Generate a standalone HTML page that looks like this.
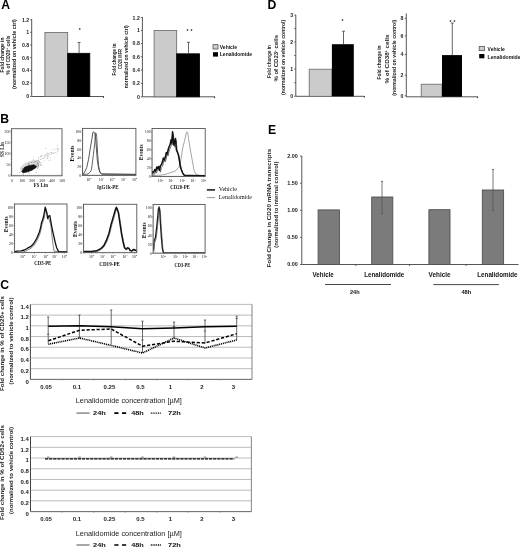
<!DOCTYPE html>
<html><head><meta charset="utf-8"><style>
html,body{margin:0;padding:0;background:#fff;width:520px;height:549px;overflow:hidden}
svg{display:block;filter:grayscale(1)}
</style></head><body>
<svg width="520" height="549" viewBox="0 0 520 549">
<rect width="520" height="549" fill="#fff"/>
<text x="1.3" y="8.8" font-family='"Liberation Sans", sans-serif' font-size="12.2" font-weight="bold" text-anchor="start" fill="#000" >A</text>
<text x="267.4" y="8.7" font-family='"Liberation Sans", sans-serif' font-size="12.2" font-weight="bold" text-anchor="start" fill="#000" >D</text>
<text x="0.3" y="122.7" font-family='"Liberation Sans", sans-serif' font-size="12.2" font-weight="bold" text-anchor="start" fill="#000" >B</text>
<text x="268.0" y="133.7" font-family='"Liberation Sans", sans-serif' font-size="12.2" font-weight="bold" text-anchor="start" fill="#000" >E</text>
<text x="0.2" y="288.5" font-family='"Liberation Sans", sans-serif' font-size="12.2" font-weight="bold" text-anchor="start" fill="#000" >C</text>
<line x1="31.7" y1="19.2" x2="31.7" y2="96.5" stroke="#444" stroke-width="0.9" />
<line x1="31.7" y1="96.5" x2="103.5" y2="96.5" stroke="#444" stroke-width="0.9" />
<line x1="103.5" y1="96.2" x2="103.5" y2="97.8" stroke="#333" stroke-width="1.1" />
<line x1="30.099999999999998" y1="19.8" x2="31.7" y2="19.8" stroke="#444" stroke-width="0.8" />
<text x="29.099999999999998" y="21.6" font-family='"Liberation Sans", sans-serif' font-size="5.2" font-weight="bold" text-anchor="end" fill="#222" >1.2</text>
<line x1="30.099999999999998" y1="32.3" x2="31.7" y2="32.3" stroke="#444" stroke-width="0.8" />
<text x="29.099999999999998" y="34.099999999999994" font-family='"Liberation Sans", sans-serif' font-size="5.2" font-weight="bold" text-anchor="end" fill="#222" >1</text>
<line x1="30.099999999999998" y1="45.0" x2="31.7" y2="45.0" stroke="#444" stroke-width="0.8" />
<text x="29.099999999999998" y="46.8" font-family='"Liberation Sans", sans-serif' font-size="5.2" font-weight="bold" text-anchor="end" fill="#222" >0.8</text>
<line x1="30.099999999999998" y1="57.7" x2="31.7" y2="57.7" stroke="#444" stroke-width="0.8" />
<text x="29.099999999999998" y="59.5" font-family='"Liberation Sans", sans-serif' font-size="5.2" font-weight="bold" text-anchor="end" fill="#222" >0.6</text>
<line x1="30.099999999999998" y1="70.5" x2="31.7" y2="70.5" stroke="#444" stroke-width="0.8" />
<text x="29.099999999999998" y="72.3" font-family='"Liberation Sans", sans-serif' font-size="5.2" font-weight="bold" text-anchor="end" fill="#222" >0.4</text>
<line x1="30.099999999999998" y1="83.2" x2="31.7" y2="83.2" stroke="#444" stroke-width="0.8" />
<text x="29.099999999999998" y="85.0" font-family='"Liberation Sans", sans-serif' font-size="5.2" font-weight="bold" text-anchor="end" fill="#222" >0.2</text>
<line x1="30.099999999999998" y1="96.5" x2="31.7" y2="96.5" stroke="#444" stroke-width="0.8" />
<text x="29.099999999999998" y="98.3" font-family='"Liberation Sans", sans-serif' font-size="5.2" font-weight="bold" text-anchor="end" fill="#222" >0</text>
<rect x="44.9" y="32.4" width="22.800000000000004" height="64.1" fill="#cbcbcb" stroke="#666" stroke-width="0.8"/>
<rect x="67.7" y="53.3" width="22.099999999999994" height="43.2" fill="#000" stroke="#000" stroke-width="0.8"/>
<line x1="79.1" y1="42.5" x2="79.1" y2="53.3" stroke="#555" stroke-width="0.9" />
<line x1="77.6" y1="42.5" x2="80.6" y2="42.5" stroke="#555" stroke-width="0.9" />
<text x="79.8" y="32.2" font-family='"Liberation Sans", sans-serif' font-size="5" font-weight="bold" text-anchor="middle" fill="#222" >*</text>
<text transform="translate(3.6,55.0) rotate(-90)" x="0" y="0" font-family='"Liberation Sans", sans-serif' font-size="5.0" font-weight="bold" text-anchor="middle" fill="#222" textLength="35" lengthAdjust="spacingAndGlyphs" >Fold change in</text>
<text transform="translate(9.8,54.9) rotate(-90)" x="0" y="0" font-family='"Liberation Sans", sans-serif' font-size="5.0" font-weight="bold" text-anchor="middle" fill="#222" textLength="39" lengthAdjust="spacingAndGlyphs" >% of CD20<tspan font-size="3" dy="-1.5">+</tspan><tspan dy="1.5"> cells</tspan></text>
<text transform="translate(16.0,54.1) rotate(-90)" x="0" y="0" font-family='"Liberation Sans", sans-serif' font-size="5.0" font-weight="bold" text-anchor="middle" fill="#222" textLength="70" lengthAdjust="spacingAndGlyphs" >(normalized  on  vehicle  ctrl)</text>
<line x1="142.4" y1="16.9" x2="142.4" y2="96.8" stroke="#444" stroke-width="0.9" />
<line x1="142.4" y1="96.8" x2="214.5" y2="96.8" stroke="#444" stroke-width="0.9" />
<line x1="214.5" y1="96.5" x2="214.5" y2="98.1" stroke="#333" stroke-width="1.1" />
<line x1="140.8" y1="17.7" x2="142.4" y2="17.7" stroke="#444" stroke-width="0.8" />
<text x="139.8" y="19.5" font-family='"Liberation Sans", sans-serif' font-size="5.2" font-weight="bold" text-anchor="end" fill="#222" >1.2</text>
<line x1="140.8" y1="30.4" x2="142.4" y2="30.4" stroke="#444" stroke-width="0.8" />
<text x="139.8" y="32.199999999999996" font-family='"Liberation Sans", sans-serif' font-size="5.2" font-weight="bold" text-anchor="end" fill="#222" >1</text>
<line x1="140.8" y1="43.6" x2="142.4" y2="43.6" stroke="#444" stroke-width="0.8" />
<text x="139.8" y="45.4" font-family='"Liberation Sans", sans-serif' font-size="5.2" font-weight="bold" text-anchor="end" fill="#222" >0.8</text>
<line x1="140.8" y1="56.8" x2="142.4" y2="56.8" stroke="#444" stroke-width="0.8" />
<text x="139.8" y="58.599999999999994" font-family='"Liberation Sans", sans-serif' font-size="5.2" font-weight="bold" text-anchor="end" fill="#222" >0.6</text>
<line x1="140.8" y1="70.0" x2="142.4" y2="70.0" stroke="#444" stroke-width="0.8" />
<text x="139.8" y="71.8" font-family='"Liberation Sans", sans-serif' font-size="5.2" font-weight="bold" text-anchor="end" fill="#222" >0.4</text>
<line x1="140.8" y1="83.4" x2="142.4" y2="83.4" stroke="#444" stroke-width="0.8" />
<text x="139.8" y="85.2" font-family='"Liberation Sans", sans-serif' font-size="5.2" font-weight="bold" text-anchor="end" fill="#222" >0.2</text>
<line x1="140.8" y1="96.8" x2="142.4" y2="96.8" stroke="#444" stroke-width="0.8" />
<text x="139.8" y="98.6" font-family='"Liberation Sans", sans-serif' font-size="5.2" font-weight="bold" text-anchor="end" fill="#222" >0</text>
<rect x="154.1" y="30.5" width="22.599999999999994" height="66.3" fill="#cbcbcb" stroke="#666" stroke-width="0.8"/>
<rect x="176.7" y="53.8" width="22.900000000000006" height="43.0" fill="#000" stroke="#000" stroke-width="0.8"/>
<line x1="188.5" y1="42.3" x2="188.5" y2="53.8" stroke="#555" stroke-width="0.9" />
<line x1="187.0" y1="42.3" x2="190.0" y2="42.3" stroke="#555" stroke-width="0.9" />
<text x="187.5" y="33" font-family='"Liberation Sans", sans-serif' font-size="5" font-weight="bold" text-anchor="middle" fill="#222" >*</text>
<text x="191.4" y="33" font-family='"Liberation Sans", sans-serif' font-size="5" font-weight="bold" text-anchor="middle" fill="#222" >*</text>
<text transform="translate(116.0,59.6) rotate(-90)" x="0" y="0" font-family='"Liberation Sans", sans-serif' font-size="5.0" font-weight="bold" text-anchor="middle" fill="#222" textLength="32" lengthAdjust="spacingAndGlyphs" >Fold change in</text>
<text transform="translate(121.5,59.0) rotate(-90)" x="0" y="0" font-family='"Liberation Sans", sans-serif' font-size="5.0" font-weight="bold" text-anchor="middle" fill="#222" textLength="20" lengthAdjust="spacingAndGlyphs" >CD20 MFR</text>
<text transform="translate(128.0,56.8) rotate(-90)" x="0" y="0" font-family='"Liberation Sans", sans-serif' font-size="5.0" font-weight="bold" text-anchor="middle" fill="#222" textLength="63" lengthAdjust="spacingAndGlyphs" >normalized on vehicle  ctrl)</text>
<rect x="213.0" y="44.6" width="5" height="4.4" fill="#cbcbcb" stroke="#555" stroke-width="0.8"/>
<text x="219.8" y="48.6" font-family='"Liberation Sans", sans-serif' font-size="5.6" font-weight="bold" text-anchor="start" fill="#111" textLength="17.2" lengthAdjust="spacingAndGlyphs" >Vehicle</text>
<rect x="213.0" y="52.2" width="5" height="4.4" fill="#000"/>
<text x="219.8" y="56.4" font-family='"Liberation Sans", sans-serif' font-size="5.6" font-weight="bold" text-anchor="start" fill="#111" textLength="32.2" lengthAdjust="spacingAndGlyphs" >Lenalidomide</text>
<line x1="295.8" y1="15" x2="295.8" y2="96.3" stroke="#444" stroke-width="0.9" />
<line x1="295.8" y1="96.3" x2="364.3" y2="96.3" stroke="#444" stroke-width="0.9" />
<line x1="364.3" y1="96.0" x2="364.3" y2="97.6" stroke="#333" stroke-width="1.1" />
<line x1="294.2" y1="15.0" x2="295.8" y2="15.0" stroke="#444" stroke-width="0.8" />
<text x="293.2" y="16.8" font-family='"Liberation Sans", sans-serif' font-size="5.2" font-weight="bold" text-anchor="end" fill="#222" >3</text>
<line x1="294.2" y1="28.6" x2="295.8" y2="28.6" stroke="#444" stroke-width="0.8" />
<line x1="294.2" y1="42.0" x2="295.8" y2="42.0" stroke="#444" stroke-width="0.8" />
<text x="293.2" y="43.8" font-family='"Liberation Sans", sans-serif' font-size="5.2" font-weight="bold" text-anchor="end" fill="#222" >2</text>
<line x1="294.2" y1="55.5" x2="295.8" y2="55.5" stroke="#444" stroke-width="0.8" />
<line x1="294.2" y1="69.0" x2="295.8" y2="69.0" stroke="#444" stroke-width="0.8" />
<text x="293.2" y="70.8" font-family='"Liberation Sans", sans-serif' font-size="5.2" font-weight="bold" text-anchor="end" fill="#222" >1</text>
<line x1="294.2" y1="82.7" x2="295.8" y2="82.7" stroke="#444" stroke-width="0.8" />
<line x1="294.2" y1="96.3" x2="295.8" y2="96.3" stroke="#444" stroke-width="0.8" />
<text x="293.2" y="98.1" font-family='"Liberation Sans", sans-serif' font-size="5.2" font-weight="bold" text-anchor="end" fill="#222" >0</text>
<rect x="309.2" y="69.2" width="22.69999999999999" height="27.099999999999994" fill="#cbcbcb" stroke="#666" stroke-width="0.8"/>
<rect x="331.9" y="44.2" width="21.900000000000034" height="52.099999999999994" fill="#000"/>
<line x1="343.5" y1="31.2" x2="343.5" y2="44.2" stroke="#555" stroke-width="0.9" />
<line x1="342" y1="31.2" x2="345" y2="31.2" stroke="#555" stroke-width="0.9" />
<text x="342.4" y="23" font-family='"Liberation Sans", sans-serif' font-size="5" font-weight="bold" text-anchor="middle" fill="#222" >*</text>
<text transform="translate(271.0,61.6) rotate(-90)" x="0" y="0" font-family='"Liberation Sans", sans-serif' font-size="5.8" font-weight="bold" text-anchor="middle" fill="#222" textLength="33" lengthAdjust="spacingAndGlyphs" >Fold change in</text>
<text transform="translate(277.8,58.3) rotate(-90)" x="0" y="0" font-family='"Liberation Sans", sans-serif' font-size="5.8" font-weight="bold" text-anchor="middle" fill="#222" textLength="46.6" lengthAdjust="spacingAndGlyphs" >% of CD23<tspan font-size="3" dy="-1.5">+</tspan><tspan dy="1.5"> cells</tspan></text>
<text transform="translate(284.6,57.4) rotate(-90)" x="0" y="0" font-family='"Liberation Sans", sans-serif' font-size="4.6" font-weight="bold" text-anchor="middle" fill="#222" textLength="75" lengthAdjust="spacingAndGlyphs" >(normalized  on vehicle control)</text>
<line x1="406.3" y1="13.5" x2="406.3" y2="96.8" stroke="#444" stroke-width="0.9" />
<line x1="406.3" y1="96.8" x2="477.5" y2="96.8" stroke="#444" stroke-width="0.9" />
<line x1="477.5" y1="96.5" x2="477.5" y2="98.1" stroke="#333" stroke-width="1.1" />
<line x1="404.7" y1="18.3" x2="406.3" y2="18.3" stroke="#444" stroke-width="0.8" />
<text x="403.5" y="20.1" font-family='"Liberation Sans", sans-serif' font-size="5.2" font-weight="bold" text-anchor="end" fill="#222" >8</text>
<line x1="404.7" y1="35.9" x2="406.3" y2="35.9" stroke="#444" stroke-width="0.8" />
<text x="403.5" y="37.699999999999996" font-family='"Liberation Sans", sans-serif' font-size="5.2" font-weight="bold" text-anchor="end" fill="#222" >6</text>
<line x1="404.7" y1="54.6" x2="406.3" y2="54.6" stroke="#444" stroke-width="0.8" />
<text x="403.5" y="56.4" font-family='"Liberation Sans", sans-serif' font-size="5.2" font-weight="bold" text-anchor="end" fill="#222" >4</text>
<line x1="404.7" y1="75.2" x2="406.3" y2="75.2" stroke="#444" stroke-width="0.8" />
<text x="403.5" y="77.0" font-family='"Liberation Sans", sans-serif' font-size="5.2" font-weight="bold" text-anchor="end" fill="#222" >2</text>
<line x1="404.7" y1="95.8" x2="406.3" y2="95.8" stroke="#444" stroke-width="0.8" />
<text x="403.5" y="97.6" font-family='"Liberation Sans", sans-serif' font-size="5.2" font-weight="bold" text-anchor="end" fill="#222" >0</text>
<rect x="421.2" y="84.2" width="20.80000000000001" height="12.599999999999994" fill="#cbcbcb" stroke="#666" stroke-width="0.8"/>
<rect x="442.0" y="55.1" width="20.0" height="41.699999999999996" fill="#000"/>
<line x1="452.3" y1="23.0" x2="452.3" y2="55.1" stroke="#555" stroke-width="0.9" />
<line x1="450.8" y1="23" x2="453.8" y2="23" stroke="#555" stroke-width="0.9" />
<text x="450.5" y="23.5" font-family='"Liberation Sans", sans-serif' font-size="5" font-weight="bold" text-anchor="middle" fill="#222" >*</text>
<text x="454.5" y="23.5" font-family='"Liberation Sans", sans-serif' font-size="5" font-weight="bold" text-anchor="middle" fill="#222" >*</text>
<text transform="translate(381.4,62.5) rotate(-90)" x="0" y="0" font-family='"Liberation Sans", sans-serif' font-size="5.8" font-weight="bold" text-anchor="middle" fill="#222" textLength="34" lengthAdjust="spacingAndGlyphs" >Fold change in</text>
<text transform="translate(388.8,59.0) rotate(-90)" x="0" y="0" font-family='"Liberation Sans", sans-serif' font-size="5.8" font-weight="bold" text-anchor="middle" fill="#222" textLength="49" lengthAdjust="spacingAndGlyphs" >% of CD38<tspan font-size="3" dy="-1.5">+</tspan><tspan dy="1.5"> cells</tspan></text>
<text transform="translate(395.7,57.7) rotate(-90)" x="0" y="0" font-family='"Liberation Sans", sans-serif' font-size="4.6" font-weight="bold" text-anchor="middle" fill="#222" textLength="76" lengthAdjust="spacingAndGlyphs" >(normalized on vehicle  control)</text>
<rect x="479.2" y="46.4" width="5.2" height="4.2" fill="#cbcbcb" stroke="#555" stroke-width="0.8"/>
<text x="487.6" y="50.8" font-family='"Liberation Sans", sans-serif' font-size="5.6" font-weight="bold" text-anchor="start" fill="#111" textLength="17.2" lengthAdjust="spacingAndGlyphs" >Vehicle</text>
<rect x="479.2" y="54.0" width="5.2" height="4.3" fill="#000"/>
<text x="487.6" y="58.5" font-family='"Liberation Sans", sans-serif' font-size="5.6" font-weight="bold" text-anchor="start" fill="#111" textLength="33" lengthAdjust="spacingAndGlyphs" >Lenalidomide</text>
<rect x="11.4" y="128.7" width="50.6" height="47.10000000000002" fill="none" stroke="#555" stroke-width="0.9"/>
<text x="10.4" y="132.6" font-family='"Liberation Serif", serif' font-size="3.9" font-weight="normal" text-anchor="end" fill="#111" >200</text>
<text x="10.4" y="143.79999999999998" font-family='"Liberation Serif", serif' font-size="3.9" font-weight="normal" text-anchor="end" fill="#111" >150</text>
<text x="10.4" y="155.0" font-family='"Liberation Serif", serif' font-size="3.9" font-weight="normal" text-anchor="end" fill="#111" >100</text>
<text x="10.4" y="166.20000000000002" font-family='"Liberation Serif", serif' font-size="3.9" font-weight="normal" text-anchor="end" fill="#111" >50</text>
<text x="10.4" y="177.4" font-family='"Liberation Serif", serif' font-size="3.9" font-weight="normal" text-anchor="end" fill="#111" >0</text>
<text x="12.1" y="181.6" font-family='"Liberation Serif", serif' font-size="3.9" font-weight="normal" text-anchor="middle" fill="#111" >0</text>
<text x="22.14" y="181.6" font-family='"Liberation Serif", serif' font-size="3.9" font-weight="normal" text-anchor="middle" fill="#111" >100</text>
<text x="32.18" y="181.6" font-family='"Liberation Serif", serif' font-size="3.9" font-weight="normal" text-anchor="middle" fill="#111" >200</text>
<text x="42.22" y="181.6" font-family='"Liberation Serif", serif' font-size="3.9" font-weight="normal" text-anchor="middle" fill="#111" >300</text>
<text x="52.26" y="181.6" font-family='"Liberation Serif", serif' font-size="3.9" font-weight="normal" text-anchor="middle" fill="#111" >400</text>
<text x="62.3" y="181.6" font-family='"Liberation Serif", serif' font-size="3.9" font-weight="normal" text-anchor="middle" fill="#111" >500</text>
<line x1="11.4" y1="174.8" x2="11.4" y2="175.8" stroke="#555" stroke-width="0.5" />
<line x1="13.424" y1="174.8" x2="13.424" y2="175.8" stroke="#555" stroke-width="0.5" />
<line x1="15.448" y1="174.8" x2="15.448" y2="175.8" stroke="#555" stroke-width="0.5" />
<line x1="17.472" y1="174.8" x2="17.472" y2="175.8" stroke="#555" stroke-width="0.5" />
<line x1="19.496000000000002" y1="174.8" x2="19.496000000000002" y2="175.8" stroke="#555" stroke-width="0.5" />
<line x1="21.52" y1="174.8" x2="21.52" y2="175.8" stroke="#555" stroke-width="0.5" />
<line x1="23.544" y1="174.8" x2="23.544" y2="175.8" stroke="#555" stroke-width="0.5" />
<line x1="25.567999999999998" y1="174.8" x2="25.567999999999998" y2="175.8" stroke="#555" stroke-width="0.5" />
<line x1="27.592" y1="174.8" x2="27.592" y2="175.8" stroke="#555" stroke-width="0.5" />
<line x1="29.616" y1="174.8" x2="29.616" y2="175.8" stroke="#555" stroke-width="0.5" />
<line x1="31.64" y1="174.8" x2="31.64" y2="175.8" stroke="#555" stroke-width="0.5" />
<line x1="33.664" y1="174.8" x2="33.664" y2="175.8" stroke="#555" stroke-width="0.5" />
<line x1="35.688" y1="174.8" x2="35.688" y2="175.8" stroke="#555" stroke-width="0.5" />
<line x1="37.712" y1="174.8" x2="37.712" y2="175.8" stroke="#555" stroke-width="0.5" />
<line x1="39.736" y1="174.8" x2="39.736" y2="175.8" stroke="#555" stroke-width="0.5" />
<line x1="41.76" y1="174.8" x2="41.76" y2="175.8" stroke="#555" stroke-width="0.5" />
<line x1="43.784" y1="174.8" x2="43.784" y2="175.8" stroke="#555" stroke-width="0.5" />
<line x1="45.808" y1="174.8" x2="45.808" y2="175.8" stroke="#555" stroke-width="0.5" />
<line x1="47.832" y1="174.8" x2="47.832" y2="175.8" stroke="#555" stroke-width="0.5" />
<line x1="49.855999999999995" y1="174.8" x2="49.855999999999995" y2="175.8" stroke="#555" stroke-width="0.5" />
<line x1="51.879999999999995" y1="174.8" x2="51.879999999999995" y2="175.8" stroke="#555" stroke-width="0.5" />
<line x1="53.904" y1="174.8" x2="53.904" y2="175.8" stroke="#555" stroke-width="0.5" />
<line x1="55.928" y1="174.8" x2="55.928" y2="175.8" stroke="#555" stroke-width="0.5" />
<line x1="57.952" y1="174.8" x2="57.952" y2="175.8" stroke="#555" stroke-width="0.5" />
<line x1="59.976" y1="174.8" x2="59.976" y2="175.8" stroke="#555" stroke-width="0.5" />
<line x1="62.0" y1="174.8" x2="62.0" y2="175.8" stroke="#555" stroke-width="0.5" />
<line x1="11.4" y1="128.7" x2="12.4" y2="128.7" stroke="#555" stroke-width="0.5" />
<line x1="11.4" y1="131.05499999999998" x2="12.4" y2="131.05499999999998" stroke="#555" stroke-width="0.5" />
<line x1="11.4" y1="133.41" x2="12.4" y2="133.41" stroke="#555" stroke-width="0.5" />
<line x1="11.4" y1="135.765" x2="12.4" y2="135.765" stroke="#555" stroke-width="0.5" />
<line x1="11.4" y1="138.12" x2="12.4" y2="138.12" stroke="#555" stroke-width="0.5" />
<line x1="11.4" y1="140.475" x2="12.4" y2="140.475" stroke="#555" stroke-width="0.5" />
<line x1="11.4" y1="142.82999999999998" x2="12.4" y2="142.82999999999998" stroke="#555" stroke-width="0.5" />
<line x1="11.4" y1="145.185" x2="12.4" y2="145.185" stroke="#555" stroke-width="0.5" />
<line x1="11.4" y1="147.54" x2="12.4" y2="147.54" stroke="#555" stroke-width="0.5" />
<line x1="11.4" y1="149.895" x2="12.4" y2="149.895" stroke="#555" stroke-width="0.5" />
<line x1="11.4" y1="152.25" x2="12.4" y2="152.25" stroke="#555" stroke-width="0.5" />
<line x1="11.4" y1="154.605" x2="12.4" y2="154.605" stroke="#555" stroke-width="0.5" />
<line x1="11.4" y1="156.96" x2="12.4" y2="156.96" stroke="#555" stroke-width="0.5" />
<line x1="11.4" y1="159.315" x2="12.4" y2="159.315" stroke="#555" stroke-width="0.5" />
<line x1="11.4" y1="161.67000000000002" x2="12.4" y2="161.67000000000002" stroke="#555" stroke-width="0.5" />
<line x1="11.4" y1="164.025" x2="12.4" y2="164.025" stroke="#555" stroke-width="0.5" />
<line x1="11.4" y1="166.38" x2="12.4" y2="166.38" stroke="#555" stroke-width="0.5" />
<line x1="11.4" y1="168.735" x2="12.4" y2="168.735" stroke="#555" stroke-width="0.5" />
<line x1="11.4" y1="171.09" x2="12.4" y2="171.09" stroke="#555" stroke-width="0.5" />
<line x1="11.4" y1="173.445" x2="12.4" y2="173.445" stroke="#555" stroke-width="0.5" />
<line x1="11.4" y1="175.8" x2="12.4" y2="175.8" stroke="#555" stroke-width="0.5" />
<text x="33.8" y="187.4" font-family='"Liberation Serif", serif' font-size="5.4" font-weight="bold" text-anchor="start" fill="#111" textLength="14" lengthAdjust="spacingAndGlyphs" >FS Lin</text>
<text transform="translate(3.8,149.5) rotate(-90)" x="0" y="0" font-family='"Liberation Serif", serif' font-size="5.4" font-weight="bold" text-anchor="middle" fill="#111" textLength="15" lengthAdjust="spacingAndGlyphs" >SS Lin</text>
<rect x="32.3" y="161.1" width="0.9" height="0.9" fill="#aaa"/>
<rect x="46.7" y="155.6" width="0.9" height="0.9" fill="#aaa"/>
<rect x="35.8" y="172.1" width="0.9" height="0.9" fill="#aaa"/>
<rect x="41.7" y="155.8" width="0.9" height="0.9" fill="#c4c4c4"/>
<rect x="37.1" y="168.0" width="0.9" height="0.9" fill="#aaa"/>
<rect x="49.6" y="152.4" width="0.9" height="0.9" fill="#bbb"/>
<rect x="40.7" y="162.1" width="0.9" height="0.9" fill="#aaa"/>
<rect x="47.3" y="154.4" width="0.9" height="0.9" fill="#aaa"/>
<rect x="40.0" y="156.0" width="0.9" height="0.9" fill="#c4c4c4"/>
<rect x="55.2" y="152.1" width="0.9" height="0.9" fill="#c4c4c4"/>
<rect x="33.2" y="156.7" width="0.9" height="0.9" fill="#ccc"/>
<rect x="41.5" y="155.2" width="0.9" height="0.9" fill="#aaa"/>
<rect x="47.9" y="153.3" width="0.9" height="0.9" fill="#bbb"/>
<rect x="56.8" y="151.2" width="0.9" height="0.9" fill="#c4c4c4"/>
<rect x="47.4" y="157.7" width="0.9" height="0.9" fill="#bbb"/>
<rect x="50.1" y="159.7" width="0.9" height="0.9" fill="#ccc"/>
<rect x="39.8" y="163.6" width="0.9" height="0.9" fill="#aaa"/>
<rect x="30.5" y="161.4" width="0.9" height="0.9" fill="#c4c4c4"/>
<rect x="25.6" y="167.1" width="0.9" height="0.9" fill="#bbb"/>
<rect x="27.9" y="164.6" width="0.9" height="0.9" fill="#ccc"/>
<rect x="45.6" y="155.4" width="0.9" height="0.9" fill="#c4c4c4"/>
<rect x="57.6" y="150.2" width="0.9" height="0.9" fill="#bbb"/>
<rect x="58.2" y="149.4" width="0.9" height="0.9" fill="#ccc"/>
<rect x="36.1" y="165.0" width="0.9" height="0.9" fill="#ccc"/>
<rect x="41.0" y="164.7" width="0.9" height="0.9" fill="#aaa"/>
<rect x="38.1" y="157.6" width="0.9" height="0.9" fill="#bbb"/>
<rect x="48.7" y="154.1" width="0.9" height="0.9" fill="#aaa"/>
<rect x="45.6" y="147.9" width="0.9" height="0.9" fill="#aaa"/>
<rect x="54.6" y="148.8" width="0.9" height="0.9" fill="#bbb"/>
<rect x="53.3" y="152.4" width="0.9" height="0.9" fill="#aaa"/>
<rect x="45.6" y="154.7" width="0.9" height="0.9" fill="#ccc"/>
<rect x="40.6" y="155.4" width="0.9" height="0.9" fill="#ccc"/>
<rect x="50.6" y="153.6" width="0.9" height="0.9" fill="#bbb"/>
<rect x="56.8" y="153.2" width="0.9" height="0.9" fill="#ccc"/>
<rect x="34.0" y="167.9" width="0.9" height="0.9" fill="#ccc"/>
<rect x="33.6" y="164.7" width="0.9" height="0.9" fill="#bbb"/>
<rect x="56.6" y="147.9" width="0.9" height="0.9" fill="#c4c4c4"/>
<rect x="47.0" y="157.7" width="0.9" height="0.9" fill="#aaa"/>
<rect x="49.6" y="157.4" width="0.9" height="0.9" fill="#ccc"/>
<rect x="48.6" y="160.3" width="0.9" height="0.9" fill="#c4c4c4"/>
<rect x="29.4" y="162.4" width="0.9" height="0.9" fill="#aaa"/>
<rect x="35.5" y="160.6" width="0.9" height="0.9" fill="#c4c4c4"/>
<rect x="38.3" y="157.1" width="0.9" height="0.9" fill="#ccc"/>
<rect x="38.0" y="159.0" width="0.9" height="0.9" fill="#ccc"/>
<rect x="42.9" y="157.8" width="0.9" height="0.9" fill="#ccc"/>
<rect x="40.2" y="156.1" width="0.9" height="0.9" fill="#aaa"/>
<rect x="26.8" y="166.5" width="0.9" height="0.9" fill="#aaa"/>
<rect x="61.0" y="143.5" width="0.9" height="0.9" fill="#aaa"/>
<rect x="47.8" y="156.0" width="0.9" height="0.9" fill="#bbb"/>
<rect x="51.8" y="149.3" width="0.9" height="0.9" fill="#ccc"/>
<rect x="47.2" y="152.7" width="0.9" height="0.9" fill="#ccc"/>
<rect x="30.7" y="164.8" width="0.9" height="0.9" fill="#c4c4c4"/>
<rect x="57.1" y="148.3" width="0.9" height="0.9" fill="#bbb"/>
<rect x="43.8" y="160.4" width="0.9" height="0.9" fill="#c4c4c4"/>
<rect x="45.3" y="154.2" width="0.9" height="0.9" fill="#bbb"/>
<rect x="37.5" y="166.6" width="0.9" height="0.9" fill="#aaa"/>
<rect x="53.6" y="153.1" width="0.9" height="0.9" fill="#bbb"/>
<rect x="44.1" y="155.1" width="0.9" height="0.9" fill="#ccc"/>
<rect x="57.0" y="144.7" width="0.9" height="0.9" fill="#bbb"/>
<rect x="40.1" y="156.3" width="0.9" height="0.9" fill="#ccc"/>
<rect x="32.7" y="159.2" width="0.9" height="0.9" fill="#bbb"/>
<rect x="41.7" y="157.8" width="0.9" height="0.9" fill="#bbb"/>
<rect x="51.7" y="153.1" width="0.9" height="0.9" fill="#aaa"/>
<rect x="57.8" y="148.4" width="0.9" height="0.9" fill="#aaa"/>
<rect x="36.0" y="163.4" width="0.9" height="0.9" fill="#aaa"/>
<rect x="44.3" y="157.6" width="0.9" height="0.9" fill="#ccc"/>
<rect x="40.4" y="158.9" width="0.9" height="0.9" fill="#aaa"/>
<rect x="51.1" y="152.1" width="0.9" height="0.9" fill="#aaa"/>
<rect x="46.2" y="152.7" width="0.9" height="0.9" fill="#bbb"/>
<rect x="44.4" y="156.7" width="0.9" height="0.9" fill="#aaa"/>
<ellipse cx="30" cy="165.5" rx="11" ry="4.2" transform="rotate(-22 30 165.5)" fill="#bbb" opacity="0.55"/>
<rect x="33.3" y="168.3" width="0.8" height="0.8" fill="#777"/>
<rect x="29.5" y="167.9" width="0.8" height="0.8" fill="#777"/>
<rect x="23.7" y="167.5" width="0.8" height="0.8" fill="#777"/>
<rect x="25.3" y="169.8" width="0.8" height="0.8" fill="#777"/>
<rect x="28.6" y="168.2" width="0.8" height="0.8" fill="#777"/>
<rect x="38.2" y="165.4" width="0.8" height="0.8" fill="#777"/>
<rect x="37.6" y="160.0" width="0.8" height="0.8" fill="#777"/>
<rect x="30.1" y="167.3" width="0.8" height="0.8" fill="#777"/>
<rect x="24.2" y="168.1" width="0.8" height="0.8" fill="#777"/>
<rect x="32.9" y="165.2" width="0.8" height="0.8" fill="#777"/>
<rect x="26.2" y="167.7" width="0.8" height="0.8" fill="#777"/>
<rect x="31.0" y="167.7" width="0.8" height="0.8" fill="#777"/>
<rect x="27.3" y="168.1" width="0.8" height="0.8" fill="#777"/>
<rect x="20.9" y="170.7" width="0.8" height="0.8" fill="#777"/>
<rect x="25.9" y="169.6" width="0.8" height="0.8" fill="#777"/>
<rect x="37.3" y="161.8" width="0.8" height="0.8" fill="#777"/>
<rect x="24.7" y="169.1" width="0.8" height="0.8" fill="#777"/>
<rect x="28.3" y="165.5" width="0.8" height="0.8" fill="#777"/>
<rect x="28.7" y="172.6" width="0.8" height="0.8" fill="#777"/>
<rect x="30.5" y="166.4" width="0.8" height="0.8" fill="#777"/>
<rect x="37.9" y="165.2" width="0.8" height="0.8" fill="#777"/>
<rect x="34.5" y="161.6" width="0.8" height="0.8" fill="#777"/>
<rect x="28.1" y="171.8" width="0.8" height="0.8" fill="#777"/>
<rect x="37.6" y="163.6" width="0.8" height="0.8" fill="#777"/>
<rect x="28.4" y="164.6" width="0.8" height="0.8" fill="#777"/>
<rect x="34.1" y="166.7" width="0.8" height="0.8" fill="#777"/>
<rect x="37.8" y="165.1" width="0.8" height="0.8" fill="#777"/>
<rect x="28.6" y="163.4" width="0.8" height="0.8" fill="#777"/>
<rect x="32.0" y="165.5" width="0.8" height="0.8" fill="#777"/>
<rect x="35.6" y="166.3" width="0.8" height="0.8" fill="#777"/>
<rect x="38.9" y="161.5" width="0.8" height="0.8" fill="#777"/>
<rect x="33.7" y="161.7" width="0.8" height="0.8" fill="#777"/>
<rect x="28.2" y="163.8" width="0.8" height="0.8" fill="#777"/>
<rect x="36.6" y="164.7" width="0.8" height="0.8" fill="#777"/>
<rect x="36.0" y="166.2" width="0.8" height="0.8" fill="#777"/>
<rect x="22.5" y="169.7" width="0.8" height="0.8" fill="#777"/>
<rect x="27.8" y="165.4" width="0.8" height="0.8" fill="#777"/>
<rect x="22.1" y="168.0" width="0.8" height="0.8" fill="#777"/>
<rect x="37.1" y="166.5" width="0.8" height="0.8" fill="#777"/>
<rect x="24.6" y="169.9" width="0.8" height="0.8" fill="#777"/>
<rect x="39.8" y="164.6" width="0.8" height="0.8" fill="#777"/>
<rect x="35.6" y="161.3" width="0.8" height="0.8" fill="#777"/>
<rect x="22.5" y="172.1" width="0.8" height="0.8" fill="#777"/>
<rect x="37.1" y="162.6" width="0.8" height="0.8" fill="#777"/>
<rect x="32.0" y="165.5" width="0.8" height="0.8" fill="#777"/>
<rect x="38.0" y="163.5" width="0.8" height="0.8" fill="#777"/>
<rect x="26.4" y="171.4" width="0.8" height="0.8" fill="#777"/>
<rect x="22.8" y="174.0" width="0.8" height="0.8" fill="#777"/>
<rect x="19.5" y="171.9" width="0.8" height="0.8" fill="#777"/>
<rect x="28.3" y="168.7" width="0.8" height="0.8" fill="#777"/>
<rect x="29.6" y="169.2" width="0.8" height="0.8" fill="#777"/>
<rect x="33.6" y="164.9" width="0.8" height="0.8" fill="#777"/>
<rect x="27.2" y="168.2" width="0.8" height="0.8" fill="#777"/>
<rect x="27.2" y="168.3" width="0.8" height="0.8" fill="#777"/>
<rect x="23.4" y="168.8" width="0.8" height="0.8" fill="#777"/>
<rect x="32.2" y="166.7" width="0.8" height="0.8" fill="#777"/>
<rect x="31.3" y="162.2" width="0.8" height="0.8" fill="#777"/>
<rect x="38.3" y="166.5" width="0.8" height="0.8" fill="#777"/>
<rect x="25.5" y="167.7" width="0.8" height="0.8" fill="#777"/>
<rect x="32.5" y="165.5" width="0.8" height="0.8" fill="#777"/>
<polygon points="21.8,171.5 23.5,168.8 24.8,167.1 28,166.0 31,165.2 34,164.8 36.2,166.2 36.2,167.5 33.5,169.3 31.7,170.3 27.5,171.8 23.1,172.9" fill="#111" stroke="#111" stroke-width="0.6" stroke-linejoin="round"/>
<clipPath id="c82128"><rect x="82.5" y="128.4" width="53.400000000000006" height="47.0"/></clipPath>
<text x="81.2" y="133.3" font-family='"Liberation Serif", serif' font-size="3.9" font-weight="normal" text-anchor="end" fill="#111" >100</text>
<line x1="81.5" y1="131.9" x2="82.5" y2="131.9" stroke="#666" stroke-width="0.5" />
<text x="81.2" y="142.0" font-family='"Liberation Serif", serif' font-size="3.9" font-weight="normal" text-anchor="end" fill="#111" >80</text>
<line x1="81.5" y1="140.6" x2="82.5" y2="140.6" stroke="#666" stroke-width="0.5" />
<text x="81.2" y="150.70000000000002" font-family='"Liberation Serif", serif' font-size="3.9" font-weight="normal" text-anchor="end" fill="#111" >60</text>
<line x1="81.5" y1="149.3" x2="82.5" y2="149.3" stroke="#666" stroke-width="0.5" />
<text x="81.2" y="159.4" font-family='"Liberation Serif", serif' font-size="3.9" font-weight="normal" text-anchor="end" fill="#111" >40</text>
<line x1="81.5" y1="158.0" x2="82.5" y2="158.0" stroke="#666" stroke-width="0.5" />
<text x="81.2" y="168.1" font-family='"Liberation Serif", serif' font-size="3.9" font-weight="normal" text-anchor="end" fill="#111" >20</text>
<line x1="81.5" y1="166.7" x2="82.5" y2="166.7" stroke="#666" stroke-width="0.5" />
<text x="81.2" y="176.8" font-family='"Liberation Serif", serif' font-size="3.9" font-weight="normal" text-anchor="end" fill="#111" >0</text>
<line x1="81.5" y1="175.4" x2="82.5" y2="175.4" stroke="#666" stroke-width="0.5" />
<text transform="translate(73.7,153.5) rotate(-90)" x="0" y="0" font-family='"Liberation Serif", serif' font-size="5.2" font-weight="bold" text-anchor="middle" fill="#111" textLength="16" lengthAdjust="spacingAndGlyphs" >Events</text>
<text x="89" y="181.0" font-family='"Liberation Serif", serif' font-size="3.9" font-weight="normal" text-anchor="middle" fill="#111" >10<tspan font-size="2.6" dy="-1.6">0</tspan></text>
<line x1="89" y1="175.4" x2="89" y2="176.4" stroke="#666" stroke-width="0.5" />
<text x="101.3" y="181.0" font-family='"Liberation Serif", serif' font-size="3.9" font-weight="normal" text-anchor="middle" fill="#111" >10<tspan font-size="2.6" dy="-1.6">1</tspan></text>
<line x1="101.3" y1="175.4" x2="101.3" y2="176.4" stroke="#666" stroke-width="0.5" />
<text x="112.2" y="181.0" font-family='"Liberation Serif", serif' font-size="3.9" font-weight="normal" text-anchor="middle" fill="#111" >10<tspan font-size="2.6" dy="-1.6">2</tspan></text>
<line x1="112.2" y1="175.4" x2="112.2" y2="176.4" stroke="#666" stroke-width="0.5" />
<text x="123.6" y="181.0" font-family='"Liberation Serif", serif' font-size="3.9" font-weight="normal" text-anchor="middle" fill="#111" >10<tspan font-size="2.6" dy="-1.6">3</tspan></text>
<line x1="123.6" y1="175.4" x2="123.6" y2="176.4" stroke="#666" stroke-width="0.5" />
<text x="134.5" y="181.0" font-family='"Liberation Serif", serif' font-size="3.9" font-weight="normal" text-anchor="middle" fill="#111" >10<tspan font-size="2.6" dy="-1.6">4</tspan></text>
<line x1="134.5" y1="175.4" x2="134.5" y2="176.4" stroke="#666" stroke-width="0.5" />
<text x="97.1" y="188.9" font-family='"Liberation Serif", serif' font-size="5.4" font-weight="bold" text-anchor="start" fill="#111" textLength="21.6" lengthAdjust="spacingAndGlyphs" >IgG1k-PE</text>
<g clip-path="url(#c82128)">
<polyline points="82.50,174.40 88.00,174.00 90.30,172.00 91.50,169.60 93.40,154.50 94.80,143.00 95.30,133.60 96.00,133.00 96.70,136.40 97.70,154.50 98.60,165.80 100.00,172.50 101.90,173.90 136.00,174.40" fill="none" stroke="#555" stroke-width="0.9" stroke-linejoin="round" />
<polyline points="82.50,174.30 83.90,173.40 86.70,167.70 88.60,159.20 90.50,146.90 92.00,138.30 92.90,132.20 94.00,131.80 94.80,132.60 95.80,140.00 96.50,150.00 97.30,160.00 98.50,168.00 100.00,172.50 102.00,174.20 136.00,174.40" fill="none" stroke="#444" stroke-width="0.9" stroke-linejoin="round" />
</g>
<line x1="82.5" y1="128.40" x2="83.4" y2="128.40" stroke="#666" stroke-width="0.5"/>
<line x1="82.5" y1="130.87" x2="83.4" y2="130.87" stroke="#666" stroke-width="0.5"/>
<line x1="82.5" y1="133.35" x2="83.4" y2="133.35" stroke="#666" stroke-width="0.5"/>
<line x1="82.5" y1="135.82" x2="83.4" y2="135.82" stroke="#666" stroke-width="0.5"/>
<line x1="82.5" y1="138.29" x2="83.4" y2="138.29" stroke="#666" stroke-width="0.5"/>
<line x1="82.5" y1="140.77" x2="83.4" y2="140.77" stroke="#666" stroke-width="0.5"/>
<line x1="82.5" y1="143.24" x2="83.4" y2="143.24" stroke="#666" stroke-width="0.5"/>
<line x1="82.5" y1="145.72" x2="83.4" y2="145.72" stroke="#666" stroke-width="0.5"/>
<line x1="82.5" y1="148.19" x2="83.4" y2="148.19" stroke="#666" stroke-width="0.5"/>
<line x1="82.5" y1="150.66" x2="83.4" y2="150.66" stroke="#666" stroke-width="0.5"/>
<line x1="82.5" y1="153.14" x2="83.4" y2="153.14" stroke="#666" stroke-width="0.5"/>
<line x1="82.5" y1="155.61" x2="83.4" y2="155.61" stroke="#666" stroke-width="0.5"/>
<line x1="82.5" y1="158.08" x2="83.4" y2="158.08" stroke="#666" stroke-width="0.5"/>
<line x1="82.5" y1="160.56" x2="83.4" y2="160.56" stroke="#666" stroke-width="0.5"/>
<line x1="82.5" y1="163.03" x2="83.4" y2="163.03" stroke="#666" stroke-width="0.5"/>
<line x1="82.5" y1="165.51" x2="83.4" y2="165.51" stroke="#666" stroke-width="0.5"/>
<line x1="82.5" y1="167.98" x2="83.4" y2="167.98" stroke="#666" stroke-width="0.5"/>
<line x1="82.5" y1="170.45" x2="83.4" y2="170.45" stroke="#666" stroke-width="0.5"/>
<line x1="82.5" y1="172.93" x2="83.4" y2="172.93" stroke="#666" stroke-width="0.5"/>
<line x1="82.5" y1="175.40" x2="83.4" y2="175.40" stroke="#666" stroke-width="0.5"/>
<line x1="82.50" y1="174.5" x2="82.50" y2="175.4" stroke="#666" stroke-width="0.5"/>
<line x1="84.93" y1="174.5" x2="84.93" y2="175.4" stroke="#666" stroke-width="0.5"/>
<line x1="87.35" y1="174.5" x2="87.35" y2="175.4" stroke="#666" stroke-width="0.5"/>
<line x1="89.78" y1="174.5" x2="89.78" y2="175.4" stroke="#666" stroke-width="0.5"/>
<line x1="92.21" y1="174.5" x2="92.21" y2="175.4" stroke="#666" stroke-width="0.5"/>
<line x1="94.64" y1="174.5" x2="94.64" y2="175.4" stroke="#666" stroke-width="0.5"/>
<line x1="97.06" y1="174.5" x2="97.06" y2="175.4" stroke="#666" stroke-width="0.5"/>
<line x1="99.49" y1="174.5" x2="99.49" y2="175.4" stroke="#666" stroke-width="0.5"/>
<line x1="101.92" y1="174.5" x2="101.92" y2="175.4" stroke="#666" stroke-width="0.5"/>
<line x1="104.35" y1="174.5" x2="104.35" y2="175.4" stroke="#666" stroke-width="0.5"/>
<line x1="106.77" y1="174.5" x2="106.77" y2="175.4" stroke="#666" stroke-width="0.5"/>
<line x1="109.20" y1="174.5" x2="109.20" y2="175.4" stroke="#666" stroke-width="0.5"/>
<line x1="111.63" y1="174.5" x2="111.63" y2="175.4" stroke="#666" stroke-width="0.5"/>
<line x1="114.05" y1="174.5" x2="114.05" y2="175.4" stroke="#666" stroke-width="0.5"/>
<line x1="116.48" y1="174.5" x2="116.48" y2="175.4" stroke="#666" stroke-width="0.5"/>
<line x1="118.91" y1="174.5" x2="118.91" y2="175.4" stroke="#666" stroke-width="0.5"/>
<line x1="121.34" y1="174.5" x2="121.34" y2="175.4" stroke="#666" stroke-width="0.5"/>
<line x1="123.76" y1="174.5" x2="123.76" y2="175.4" stroke="#666" stroke-width="0.5"/>
<line x1="126.19" y1="174.5" x2="126.19" y2="175.4" stroke="#666" stroke-width="0.5"/>
<line x1="128.62" y1="174.5" x2="128.62" y2="175.4" stroke="#666" stroke-width="0.5"/>
<line x1="131.05" y1="174.5" x2="131.05" y2="175.4" stroke="#666" stroke-width="0.5"/>
<line x1="133.47" y1="174.5" x2="133.47" y2="175.4" stroke="#666" stroke-width="0.5"/>
<line x1="135.90" y1="174.5" x2="135.90" y2="175.4" stroke="#666" stroke-width="0.5"/>
<rect x="82.5" y="128.4" width="53.400000000000006" height="47.0" fill="none" stroke="#555" stroke-width="0.9"/>
<clipPath id="c152128"><rect x="152.0" y="128.5" width="53.19999999999999" height="48.0"/></clipPath>
<text x="150.6" y="133.4" font-family='"Liberation Serif", serif' font-size="3.9" font-weight="normal" text-anchor="end" fill="#111" >100</text>
<line x1="151.0" y1="132.0" x2="152.0" y2="132.0" stroke="#666" stroke-width="0.5" />
<text x="150.6" y="142.3" font-family='"Liberation Serif", serif' font-size="3.9" font-weight="normal" text-anchor="end" fill="#111" >80</text>
<line x1="151.0" y1="140.9" x2="152.0" y2="140.9" stroke="#666" stroke-width="0.5" />
<text x="150.6" y="151.20000000000002" font-family='"Liberation Serif", serif' font-size="3.9" font-weight="normal" text-anchor="end" fill="#111" >60</text>
<line x1="151.0" y1="149.8" x2="152.0" y2="149.8" stroke="#666" stroke-width="0.5" />
<text x="150.6" y="160.1" font-family='"Liberation Serif", serif' font-size="3.9" font-weight="normal" text-anchor="end" fill="#111" >40</text>
<line x1="151.0" y1="158.7" x2="152.0" y2="158.7" stroke="#666" stroke-width="0.5" />
<text x="150.6" y="169.0" font-family='"Liberation Serif", serif' font-size="3.9" font-weight="normal" text-anchor="end" fill="#111" >20</text>
<line x1="151.0" y1="167.6" x2="152.0" y2="167.6" stroke="#666" stroke-width="0.5" />
<text x="150.6" y="177.9" font-family='"Liberation Serif", serif' font-size="3.9" font-weight="normal" text-anchor="end" fill="#111" >0</text>
<line x1="151.0" y1="176.5" x2="152.0" y2="176.5" stroke="#666" stroke-width="0.5" />
<text transform="translate(142.7,152.3) rotate(-90)" x="0" y="0" font-family='"Liberation Serif", serif' font-size="5.2" font-weight="bold" text-anchor="middle" fill="#111" textLength="16" lengthAdjust="spacingAndGlyphs" >Events</text>
<text x="160.4" y="182.3" font-family='"Liberation Serif", serif' font-size="3.9" font-weight="normal" text-anchor="middle" fill="#111" >10<tspan font-size="2.6" dy="-1.6">0</tspan></text>
<line x1="160.4" y1="176.5" x2="160.4" y2="177.5" stroke="#666" stroke-width="0.5" />
<text x="170.8" y="182.3" font-family='"Liberation Serif", serif' font-size="3.9" font-weight="normal" text-anchor="middle" fill="#111" >10<tspan font-size="2.6" dy="-1.6">1</tspan></text>
<line x1="170.8" y1="176.5" x2="170.8" y2="177.5" stroke="#666" stroke-width="0.5" />
<text x="182.3" y="182.3" font-family='"Liberation Serif", serif' font-size="3.9" font-weight="normal" text-anchor="middle" fill="#111" >10<tspan font-size="2.6" dy="-1.6">2</tspan></text>
<line x1="182.3" y1="176.5" x2="182.3" y2="177.5" stroke="#666" stroke-width="0.5" />
<text x="193.0" y="182.3" font-family='"Liberation Serif", serif' font-size="3.9" font-weight="normal" text-anchor="middle" fill="#111" >10<tspan font-size="2.6" dy="-1.6">3</tspan></text>
<line x1="193.0" y1="176.5" x2="193.0" y2="177.5" stroke="#666" stroke-width="0.5" />
<text x="203.5" y="182.3" font-family='"Liberation Serif", serif' font-size="3.9" font-weight="normal" text-anchor="middle" fill="#111" >10<tspan font-size="2.6" dy="-1.6">4</tspan></text>
<line x1="203.5" y1="176.5" x2="203.5" y2="177.5" stroke="#666" stroke-width="0.5" />
<text x="170.3" y="189.2" font-family='"Liberation Serif", serif' font-size="5.4" font-weight="bold" text-anchor="start" fill="#111" textLength="19.5" lengthAdjust="spacingAndGlyphs" >CD20-PE</text>
<g clip-path="url(#c152128)">
<polyline points="152.00,175.60 160.00,175.20 165.00,174.50 169.20,173.10 175.00,171.20 178.80,167.30 180.80,160.60 182.70,148.10 184.60,140.40 186.20,133.50 187.00,131.80 187.80,133.50 188.50,138.50 190.40,150.00 192.30,160.60 194.20,171.20 196.20,174.60 200.00,175.60 205.00,175.60" fill="none" stroke="#9a9a9a" stroke-width="0.9" stroke-linejoin="round" />
<polyline points="152.70,175.60 153.60,173.50 154.60,174.20 155.60,171.50 156.60,173.20 157.60,169.00 158.50,170.30 159.40,168.50 160.40,172.20 161.30,167.50 162.30,166.50 163.30,163.60 164.20,160.00 165.20,162.00 166.20,158.80 167.10,154.50 168.10,156.00 169.10,151.00 170.00,148.50 171.00,146.30 171.80,142.00 172.40,145.00 173.40,133.80 174.10,142.00 174.80,147.20 175.50,143.00 176.30,140.50 177.20,152.00 178.20,154.00 179.20,156.80 180.10,162.00 181.10,168.40 182.30,172.00 183.50,175.10 185.40,175.60 190.80,175.60 205.80,175.60" fill="none" stroke="#666" stroke-width="1.0" stroke-linejoin="round" />
<polyline points="151.90,174.10 152.80,171.50 153.80,172.20 154.80,169.50 155.80,171.20 156.80,167.00 157.70,168.30 158.60,166.50 159.60,170.20 160.50,165.50 161.50,164.50 162.50,161.60 163.40,158.00 164.40,160.00 165.40,156.80 166.30,152.50 167.30,154.00 168.30,149.00 169.20,146.50 170.20,144.30 171.00,140.00 171.60,143.00 172.60,131.80 173.30,140.00 174.00,145.20 174.70,141.00 175.50,138.50 176.40,150.00 177.40,152.00 178.40,154.80 179.30,160.00 180.30,166.40 181.50,170.00 182.70,173.10 184.60,175.50 190.00,175.60 205.00,175.80" fill="none" stroke="#111" stroke-width="1.5" stroke-linejoin="round" />
</g>
<line x1="152.0" y1="128.50" x2="152.9" y2="128.50" stroke="#666" stroke-width="0.5"/>
<line x1="152.0" y1="130.90" x2="152.9" y2="130.90" stroke="#666" stroke-width="0.5"/>
<line x1="152.0" y1="133.30" x2="152.9" y2="133.30" stroke="#666" stroke-width="0.5"/>
<line x1="152.0" y1="135.70" x2="152.9" y2="135.70" stroke="#666" stroke-width="0.5"/>
<line x1="152.0" y1="138.10" x2="152.9" y2="138.10" stroke="#666" stroke-width="0.5"/>
<line x1="152.0" y1="140.50" x2="152.9" y2="140.50" stroke="#666" stroke-width="0.5"/>
<line x1="152.0" y1="142.90" x2="152.9" y2="142.90" stroke="#666" stroke-width="0.5"/>
<line x1="152.0" y1="145.30" x2="152.9" y2="145.30" stroke="#666" stroke-width="0.5"/>
<line x1="152.0" y1="147.70" x2="152.9" y2="147.70" stroke="#666" stroke-width="0.5"/>
<line x1="152.0" y1="150.10" x2="152.9" y2="150.10" stroke="#666" stroke-width="0.5"/>
<line x1="152.0" y1="152.50" x2="152.9" y2="152.50" stroke="#666" stroke-width="0.5"/>
<line x1="152.0" y1="154.90" x2="152.9" y2="154.90" stroke="#666" stroke-width="0.5"/>
<line x1="152.0" y1="157.30" x2="152.9" y2="157.30" stroke="#666" stroke-width="0.5"/>
<line x1="152.0" y1="159.70" x2="152.9" y2="159.70" stroke="#666" stroke-width="0.5"/>
<line x1="152.0" y1="162.10" x2="152.9" y2="162.10" stroke="#666" stroke-width="0.5"/>
<line x1="152.0" y1="164.50" x2="152.9" y2="164.50" stroke="#666" stroke-width="0.5"/>
<line x1="152.0" y1="166.90" x2="152.9" y2="166.90" stroke="#666" stroke-width="0.5"/>
<line x1="152.0" y1="169.30" x2="152.9" y2="169.30" stroke="#666" stroke-width="0.5"/>
<line x1="152.0" y1="171.70" x2="152.9" y2="171.70" stroke="#666" stroke-width="0.5"/>
<line x1="152.0" y1="174.10" x2="152.9" y2="174.10" stroke="#666" stroke-width="0.5"/>
<line x1="152.0" y1="176.50" x2="152.9" y2="176.50" stroke="#666" stroke-width="0.5"/>
<line x1="152.00" y1="175.6" x2="152.00" y2="176.5" stroke="#666" stroke-width="0.5"/>
<line x1="154.42" y1="175.6" x2="154.42" y2="176.5" stroke="#666" stroke-width="0.5"/>
<line x1="156.84" y1="175.6" x2="156.84" y2="176.5" stroke="#666" stroke-width="0.5"/>
<line x1="159.25" y1="175.6" x2="159.25" y2="176.5" stroke="#666" stroke-width="0.5"/>
<line x1="161.67" y1="175.6" x2="161.67" y2="176.5" stroke="#666" stroke-width="0.5"/>
<line x1="164.09" y1="175.6" x2="164.09" y2="176.5" stroke="#666" stroke-width="0.5"/>
<line x1="166.51" y1="175.6" x2="166.51" y2="176.5" stroke="#666" stroke-width="0.5"/>
<line x1="168.93" y1="175.6" x2="168.93" y2="176.5" stroke="#666" stroke-width="0.5"/>
<line x1="171.35" y1="175.6" x2="171.35" y2="176.5" stroke="#666" stroke-width="0.5"/>
<line x1="173.76" y1="175.6" x2="173.76" y2="176.5" stroke="#666" stroke-width="0.5"/>
<line x1="176.18" y1="175.6" x2="176.18" y2="176.5" stroke="#666" stroke-width="0.5"/>
<line x1="178.60" y1="175.6" x2="178.60" y2="176.5" stroke="#666" stroke-width="0.5"/>
<line x1="181.02" y1="175.6" x2="181.02" y2="176.5" stroke="#666" stroke-width="0.5"/>
<line x1="183.44" y1="175.6" x2="183.44" y2="176.5" stroke="#666" stroke-width="0.5"/>
<line x1="185.85" y1="175.6" x2="185.85" y2="176.5" stroke="#666" stroke-width="0.5"/>
<line x1="188.27" y1="175.6" x2="188.27" y2="176.5" stroke="#666" stroke-width="0.5"/>
<line x1="190.69" y1="175.6" x2="190.69" y2="176.5" stroke="#666" stroke-width="0.5"/>
<line x1="193.11" y1="175.6" x2="193.11" y2="176.5" stroke="#666" stroke-width="0.5"/>
<line x1="195.53" y1="175.6" x2="195.53" y2="176.5" stroke="#666" stroke-width="0.5"/>
<line x1="197.95" y1="175.6" x2="197.95" y2="176.5" stroke="#666" stroke-width="0.5"/>
<line x1="200.36" y1="175.6" x2="200.36" y2="176.5" stroke="#666" stroke-width="0.5"/>
<line x1="202.78" y1="175.6" x2="202.78" y2="176.5" stroke="#666" stroke-width="0.5"/>
<line x1="205.20" y1="175.6" x2="205.20" y2="176.5" stroke="#666" stroke-width="0.5"/>
<rect x="152.0" y="128.5" width="53.19999999999999" height="48.0" fill="none" stroke="#555" stroke-width="0.9"/>
<line x1="206.9" y1="189.9" x2="215" y2="189.9" stroke="#000" stroke-width="1.4" />
<text x="218.7" y="190.5" font-family='"Liberation Serif", serif' font-size="6.0" font-weight="normal" text-anchor="start" fill="#111" textLength="18.2" lengthAdjust="spacingAndGlyphs" >Vehicle</text>
<line x1="206.9" y1="197.6" x2="215" y2="197.6" stroke="#999" stroke-width="1.0" />
<text x="218.7" y="199.3" font-family='"Liberation Serif", serif' font-size="6.0" font-weight="normal" text-anchor="start" fill="#111" textLength="33.2" lengthAdjust="spacingAndGlyphs" >Lenalidomide</text>
<clipPath id="c14204"><rect x="14.4" y="204.0" width="52.6" height="48.599999999999994"/></clipPath>
<text x="13.0" y="208.9" font-family='"Liberation Serif", serif' font-size="3.9" font-weight="normal" text-anchor="end" fill="#111" >100</text>
<line x1="13.4" y1="207.5" x2="14.4" y2="207.5" stroke="#666" stroke-width="0.5" />
<text x="13.0" y="217.92000000000002" font-family='"Liberation Serif", serif' font-size="3.9" font-weight="normal" text-anchor="end" fill="#111" >80</text>
<line x1="13.4" y1="216.52" x2="14.4" y2="216.52" stroke="#666" stroke-width="0.5" />
<text x="13.0" y="226.94" font-family='"Liberation Serif", serif' font-size="3.9" font-weight="normal" text-anchor="end" fill="#111" >60</text>
<line x1="13.4" y1="225.54" x2="14.4" y2="225.54" stroke="#666" stroke-width="0.5" />
<text x="13.0" y="235.96" font-family='"Liberation Serif", serif' font-size="3.9" font-weight="normal" text-anchor="end" fill="#111" >40</text>
<line x1="13.4" y1="234.56" x2="14.4" y2="234.56" stroke="#666" stroke-width="0.5" />
<text x="13.0" y="244.98" font-family='"Liberation Serif", serif' font-size="3.9" font-weight="normal" text-anchor="end" fill="#111" >20</text>
<line x1="13.4" y1="243.57999999999998" x2="14.4" y2="243.57999999999998" stroke="#666" stroke-width="0.5" />
<text x="13.0" y="254.0" font-family='"Liberation Serif", serif' font-size="3.9" font-weight="normal" text-anchor="end" fill="#111" >0</text>
<line x1="13.4" y1="252.6" x2="14.4" y2="252.6" stroke="#666" stroke-width="0.5" />
<text transform="translate(8.0,224.3) rotate(-90)" x="0" y="0" font-family='"Liberation Serif", serif' font-size="5.2" font-weight="bold" text-anchor="middle" fill="#111" textLength="16" lengthAdjust="spacingAndGlyphs" >Events</text>
<text x="22.6" y="258.0" font-family='"Liberation Serif", serif' font-size="3.9" font-weight="normal" text-anchor="middle" fill="#111" >10<tspan font-size="2.6" dy="-1.6">0</tspan></text>
<line x1="22.6" y1="252.6" x2="22.6" y2="253.6" stroke="#666" stroke-width="0.5" />
<text x="34.2" y="258.0" font-family='"Liberation Serif", serif' font-size="3.9" font-weight="normal" text-anchor="middle" fill="#111" >10<tspan font-size="2.6" dy="-1.6">1</tspan></text>
<line x1="34.2" y1="252.6" x2="34.2" y2="253.6" stroke="#666" stroke-width="0.5" />
<text x="45.8" y="258.0" font-family='"Liberation Serif", serif' font-size="3.9" font-weight="normal" text-anchor="middle" fill="#111" >10<tspan font-size="2.6" dy="-1.6">2</tspan></text>
<line x1="45.8" y1="252.6" x2="45.8" y2="253.6" stroke="#666" stroke-width="0.5" />
<text x="54.5" y="258.0" font-family='"Liberation Serif", serif' font-size="3.9" font-weight="normal" text-anchor="middle" fill="#111" >10<tspan font-size="2.6" dy="-1.6">3</tspan></text>
<line x1="54.5" y1="252.6" x2="54.5" y2="253.6" stroke="#666" stroke-width="0.5" />
<text x="64.3" y="258.0" font-family='"Liberation Serif", serif' font-size="3.9" font-weight="normal" text-anchor="middle" fill="#111" >10<tspan font-size="2.6" dy="-1.6">4</tspan></text>
<line x1="64.3" y1="252.6" x2="64.3" y2="253.6" stroke="#666" stroke-width="0.5" />
<text x="34.2" y="265.0" font-family='"Liberation Serif", serif' font-size="5.4" font-weight="bold" text-anchor="start" fill="#111" textLength="17.1" lengthAdjust="spacingAndGlyphs" >CD5-PE</text>
<g clip-path="url(#c14204)">
<polyline points="15.00,253.30 17.70,252.70 21.60,252.30 25.00,251.50 28.10,249.70 31.20,248.20 34.30,245.00 37.40,239.80 40.00,233.60 41.10,229.50 42.10,224.30 43.10,221.50 44.20,218.00 45.00,213.50 45.80,208.70 46.60,211.50 47.30,213.90 50.90,225.00 52.40,240.00 54.00,251.20 67.00,252.00" fill="none" stroke="#777" stroke-width="0.9" stroke-linejoin="round" />
<polyline points="14.40,251.80 17.10,251.20 21.00,250.80 24.40,250.00 27.50,248.20 30.60,246.70 33.70,243.50 36.80,238.30 39.40,232.10 40.50,228.00 41.50,222.80 42.50,220.00 43.60,216.50 44.40,212.00 45.20,207.20 46.00,210.00 46.70,212.40 47.70,218.60 48.80,216.00 49.80,215.50 50.60,220.00 51.40,224.80 52.90,232.10 55.00,241.50 56.60,247.70 58.70,251.60 67.00,252.00" fill="none" stroke="#111" stroke-width="1.3" stroke-linejoin="round" />
</g>
<line x1="14.4" y1="204.00" x2="15.3" y2="204.00" stroke="#666" stroke-width="0.5"/>
<line x1="14.4" y1="206.43" x2="15.3" y2="206.43" stroke="#666" stroke-width="0.5"/>
<line x1="14.4" y1="208.86" x2="15.3" y2="208.86" stroke="#666" stroke-width="0.5"/>
<line x1="14.4" y1="211.29" x2="15.3" y2="211.29" stroke="#666" stroke-width="0.5"/>
<line x1="14.4" y1="213.72" x2="15.3" y2="213.72" stroke="#666" stroke-width="0.5"/>
<line x1="14.4" y1="216.15" x2="15.3" y2="216.15" stroke="#666" stroke-width="0.5"/>
<line x1="14.4" y1="218.58" x2="15.3" y2="218.58" stroke="#666" stroke-width="0.5"/>
<line x1="14.4" y1="221.01" x2="15.3" y2="221.01" stroke="#666" stroke-width="0.5"/>
<line x1="14.4" y1="223.44" x2="15.3" y2="223.44" stroke="#666" stroke-width="0.5"/>
<line x1="14.4" y1="225.87" x2="15.3" y2="225.87" stroke="#666" stroke-width="0.5"/>
<line x1="14.4" y1="228.30" x2="15.3" y2="228.30" stroke="#666" stroke-width="0.5"/>
<line x1="14.4" y1="230.73" x2="15.3" y2="230.73" stroke="#666" stroke-width="0.5"/>
<line x1="14.4" y1="233.16" x2="15.3" y2="233.16" stroke="#666" stroke-width="0.5"/>
<line x1="14.4" y1="235.59" x2="15.3" y2="235.59" stroke="#666" stroke-width="0.5"/>
<line x1="14.4" y1="238.02" x2="15.3" y2="238.02" stroke="#666" stroke-width="0.5"/>
<line x1="14.4" y1="240.45" x2="15.3" y2="240.45" stroke="#666" stroke-width="0.5"/>
<line x1="14.4" y1="242.88" x2="15.3" y2="242.88" stroke="#666" stroke-width="0.5"/>
<line x1="14.4" y1="245.31" x2="15.3" y2="245.31" stroke="#666" stroke-width="0.5"/>
<line x1="14.4" y1="247.74" x2="15.3" y2="247.74" stroke="#666" stroke-width="0.5"/>
<line x1="14.4" y1="250.17" x2="15.3" y2="250.17" stroke="#666" stroke-width="0.5"/>
<line x1="14.4" y1="252.60" x2="15.3" y2="252.60" stroke="#666" stroke-width="0.5"/>
<line x1="14.40" y1="251.7" x2="14.40" y2="252.6" stroke="#666" stroke-width="0.5"/>
<line x1="16.90" y1="251.7" x2="16.90" y2="252.6" stroke="#666" stroke-width="0.5"/>
<line x1="19.41" y1="251.7" x2="19.41" y2="252.6" stroke="#666" stroke-width="0.5"/>
<line x1="21.91" y1="251.7" x2="21.91" y2="252.6" stroke="#666" stroke-width="0.5"/>
<line x1="24.42" y1="251.7" x2="24.42" y2="252.6" stroke="#666" stroke-width="0.5"/>
<line x1="26.92" y1="251.7" x2="26.92" y2="252.6" stroke="#666" stroke-width="0.5"/>
<line x1="29.43" y1="251.7" x2="29.43" y2="252.6" stroke="#666" stroke-width="0.5"/>
<line x1="31.93" y1="251.7" x2="31.93" y2="252.6" stroke="#666" stroke-width="0.5"/>
<line x1="34.44" y1="251.7" x2="34.44" y2="252.6" stroke="#666" stroke-width="0.5"/>
<line x1="36.94" y1="251.7" x2="36.94" y2="252.6" stroke="#666" stroke-width="0.5"/>
<line x1="39.45" y1="251.7" x2="39.45" y2="252.6" stroke="#666" stroke-width="0.5"/>
<line x1="41.95" y1="251.7" x2="41.95" y2="252.6" stroke="#666" stroke-width="0.5"/>
<line x1="44.46" y1="251.7" x2="44.46" y2="252.6" stroke="#666" stroke-width="0.5"/>
<line x1="46.96" y1="251.7" x2="46.96" y2="252.6" stroke="#666" stroke-width="0.5"/>
<line x1="49.47" y1="251.7" x2="49.47" y2="252.6" stroke="#666" stroke-width="0.5"/>
<line x1="51.97" y1="251.7" x2="51.97" y2="252.6" stroke="#666" stroke-width="0.5"/>
<line x1="54.48" y1="251.7" x2="54.48" y2="252.6" stroke="#666" stroke-width="0.5"/>
<line x1="56.98" y1="251.7" x2="56.98" y2="252.6" stroke="#666" stroke-width="0.5"/>
<line x1="59.49" y1="251.7" x2="59.49" y2="252.6" stroke="#666" stroke-width="0.5"/>
<line x1="61.99" y1="251.7" x2="61.99" y2="252.6" stroke="#666" stroke-width="0.5"/>
<line x1="64.50" y1="251.7" x2="64.50" y2="252.6" stroke="#666" stroke-width="0.5"/>
<line x1="67.00" y1="251.7" x2="67.00" y2="252.6" stroke="#666" stroke-width="0.5"/>
<rect x="14.4" y="204.0" width="52.6" height="48.599999999999994" fill="none" stroke="#555" stroke-width="0.9"/>
<clipPath id="c83204"><rect x="83.5" y="204.3" width="53.30000000000001" height="48.39999999999998"/></clipPath>
<text x="82.2" y="209.20000000000002" font-family='"Liberation Serif", serif' font-size="3.9" font-weight="normal" text-anchor="end" fill="#111" >100</text>
<line x1="82.5" y1="207.8" x2="83.5" y2="207.8" stroke="#666" stroke-width="0.5" />
<text x="82.2" y="218.18" font-family='"Liberation Serif", serif' font-size="3.9" font-weight="normal" text-anchor="end" fill="#111" >80</text>
<line x1="82.5" y1="216.78" x2="83.5" y2="216.78" stroke="#666" stroke-width="0.5" />
<text x="82.2" y="227.16" font-family='"Liberation Serif", serif' font-size="3.9" font-weight="normal" text-anchor="end" fill="#111" >60</text>
<line x1="82.5" y1="225.76" x2="83.5" y2="225.76" stroke="#666" stroke-width="0.5" />
<text x="82.2" y="236.14000000000001" font-family='"Liberation Serif", serif' font-size="3.9" font-weight="normal" text-anchor="end" fill="#111" >40</text>
<line x1="82.5" y1="234.74" x2="83.5" y2="234.74" stroke="#666" stroke-width="0.5" />
<text x="82.2" y="245.12" font-family='"Liberation Serif", serif' font-size="3.9" font-weight="normal" text-anchor="end" fill="#111" >20</text>
<line x1="82.5" y1="243.72" x2="83.5" y2="243.72" stroke="#666" stroke-width="0.5" />
<text x="82.2" y="254.1" font-family='"Liberation Serif", serif' font-size="3.9" font-weight="normal" text-anchor="end" fill="#111" >0</text>
<line x1="82.5" y1="252.7" x2="83.5" y2="252.7" stroke="#666" stroke-width="0.5" />
<text transform="translate(76.8,229.0) rotate(-90)" x="0" y="0" font-family='"Liberation Serif", serif' font-size="5.2" font-weight="bold" text-anchor="middle" fill="#111" textLength="16" lengthAdjust="spacingAndGlyphs" >Events</text>
<text x="91.5" y="258.0" font-family='"Liberation Serif", serif' font-size="3.9" font-weight="normal" text-anchor="middle" fill="#111" >10<tspan font-size="2.6" dy="-1.6">0</tspan></text>
<line x1="91.5" y1="252.7" x2="91.5" y2="253.7" stroke="#666" stroke-width="0.5" />
<text x="102.6" y="258.0" font-family='"Liberation Serif", serif' font-size="3.9" font-weight="normal" text-anchor="middle" fill="#111" >10<tspan font-size="2.6" dy="-1.6">1</tspan></text>
<line x1="102.6" y1="252.7" x2="102.6" y2="253.7" stroke="#666" stroke-width="0.5" />
<text x="113.0" y="258.0" font-family='"Liberation Serif", serif' font-size="3.9" font-weight="normal" text-anchor="middle" fill="#111" >10<tspan font-size="2.6" dy="-1.6">2</tspan></text>
<line x1="113.0" y1="252.7" x2="113.0" y2="253.7" stroke="#666" stroke-width="0.5" />
<text x="125.0" y="258.0" font-family='"Liberation Serif", serif' font-size="3.9" font-weight="normal" text-anchor="middle" fill="#111" >10<tspan font-size="2.6" dy="-1.6">3</tspan></text>
<line x1="125.0" y1="252.7" x2="125.0" y2="253.7" stroke="#666" stroke-width="0.5" />
<text x="134.5" y="258.0" font-family='"Liberation Serif", serif' font-size="3.9" font-weight="normal" text-anchor="middle" fill="#111" >10<tspan font-size="2.6" dy="-1.6">4</tspan></text>
<line x1="134.5" y1="252.7" x2="134.5" y2="253.7" stroke="#666" stroke-width="0.5" />
<text x="99.2" y="265.5" font-family='"Liberation Serif", serif' font-size="5.4" font-weight="bold" text-anchor="start" fill="#111" textLength="20.8" lengthAdjust="spacingAndGlyphs" >CD19-PE</text>
<g clip-path="url(#c83204)">
<polyline points="84.20,252.80 85.70,252.30 92.00,252.40 97.20,251.60 101.40,249.50 104.50,246.40 107.10,241.20 109.70,234.00 111.70,225.60 113.80,218.40 115.90,211.10 117.10,208.00 119.00,213.20 120.60,223.60 122.10,234.00 123.70,242.30 125.20,248.50 126.80,250.00 128.20,248.60 129.40,249.00 130.90,251.30 132.50,251.60 134.00,250.30 135.60,250.60 137.50,251.80" fill="none" stroke="#888" stroke-width="0.9" stroke-linejoin="round" />
<polyline points="83.50,252.00 85.00,251.50 91.30,251.60 96.50,250.80 100.70,248.70 103.80,245.60 106.40,240.40 109.00,233.20 111.00,224.80 113.10,217.60 115.20,210.30 116.40,207.20 118.30,212.40 119.90,222.80 121.40,233.20 123.00,241.50 124.50,247.70 126.10,249.20 127.50,247.80 128.70,248.20 130.20,250.50 131.80,250.80 133.30,249.50 134.90,249.80 136.80,251.00" fill="none" stroke="#111" stroke-width="1.5" stroke-linejoin="round" />
</g>
<line x1="83.5" y1="204.30" x2="84.4" y2="204.30" stroke="#666" stroke-width="0.5"/>
<line x1="83.5" y1="206.72" x2="84.4" y2="206.72" stroke="#666" stroke-width="0.5"/>
<line x1="83.5" y1="209.14" x2="84.4" y2="209.14" stroke="#666" stroke-width="0.5"/>
<line x1="83.5" y1="211.56" x2="84.4" y2="211.56" stroke="#666" stroke-width="0.5"/>
<line x1="83.5" y1="213.98" x2="84.4" y2="213.98" stroke="#666" stroke-width="0.5"/>
<line x1="83.5" y1="216.40" x2="84.4" y2="216.40" stroke="#666" stroke-width="0.5"/>
<line x1="83.5" y1="218.82" x2="84.4" y2="218.82" stroke="#666" stroke-width="0.5"/>
<line x1="83.5" y1="221.24" x2="84.4" y2="221.24" stroke="#666" stroke-width="0.5"/>
<line x1="83.5" y1="223.66" x2="84.4" y2="223.66" stroke="#666" stroke-width="0.5"/>
<line x1="83.5" y1="226.08" x2="84.4" y2="226.08" stroke="#666" stroke-width="0.5"/>
<line x1="83.5" y1="228.50" x2="84.4" y2="228.50" stroke="#666" stroke-width="0.5"/>
<line x1="83.5" y1="230.92" x2="84.4" y2="230.92" stroke="#666" stroke-width="0.5"/>
<line x1="83.5" y1="233.34" x2="84.4" y2="233.34" stroke="#666" stroke-width="0.5"/>
<line x1="83.5" y1="235.76" x2="84.4" y2="235.76" stroke="#666" stroke-width="0.5"/>
<line x1="83.5" y1="238.18" x2="84.4" y2="238.18" stroke="#666" stroke-width="0.5"/>
<line x1="83.5" y1="240.60" x2="84.4" y2="240.60" stroke="#666" stroke-width="0.5"/>
<line x1="83.5" y1="243.02" x2="84.4" y2="243.02" stroke="#666" stroke-width="0.5"/>
<line x1="83.5" y1="245.44" x2="84.4" y2="245.44" stroke="#666" stroke-width="0.5"/>
<line x1="83.5" y1="247.86" x2="84.4" y2="247.86" stroke="#666" stroke-width="0.5"/>
<line x1="83.5" y1="250.28" x2="84.4" y2="250.28" stroke="#666" stroke-width="0.5"/>
<line x1="83.5" y1="252.70" x2="84.4" y2="252.70" stroke="#666" stroke-width="0.5"/>
<line x1="83.50" y1="251.79999999999998" x2="83.50" y2="252.7" stroke="#666" stroke-width="0.5"/>
<line x1="85.92" y1="251.79999999999998" x2="85.92" y2="252.7" stroke="#666" stroke-width="0.5"/>
<line x1="88.35" y1="251.79999999999998" x2="88.35" y2="252.7" stroke="#666" stroke-width="0.5"/>
<line x1="90.77" y1="251.79999999999998" x2="90.77" y2="252.7" stroke="#666" stroke-width="0.5"/>
<line x1="93.19" y1="251.79999999999998" x2="93.19" y2="252.7" stroke="#666" stroke-width="0.5"/>
<line x1="95.61" y1="251.79999999999998" x2="95.61" y2="252.7" stroke="#666" stroke-width="0.5"/>
<line x1="98.04" y1="251.79999999999998" x2="98.04" y2="252.7" stroke="#666" stroke-width="0.5"/>
<line x1="100.46" y1="251.79999999999998" x2="100.46" y2="252.7" stroke="#666" stroke-width="0.5"/>
<line x1="102.88" y1="251.79999999999998" x2="102.88" y2="252.7" stroke="#666" stroke-width="0.5"/>
<line x1="105.30" y1="251.79999999999998" x2="105.30" y2="252.7" stroke="#666" stroke-width="0.5"/>
<line x1="107.73" y1="251.79999999999998" x2="107.73" y2="252.7" stroke="#666" stroke-width="0.5"/>
<line x1="110.15" y1="251.79999999999998" x2="110.15" y2="252.7" stroke="#666" stroke-width="0.5"/>
<line x1="112.57" y1="251.79999999999998" x2="112.57" y2="252.7" stroke="#666" stroke-width="0.5"/>
<line x1="115.00" y1="251.79999999999998" x2="115.00" y2="252.7" stroke="#666" stroke-width="0.5"/>
<line x1="117.42" y1="251.79999999999998" x2="117.42" y2="252.7" stroke="#666" stroke-width="0.5"/>
<line x1="119.84" y1="251.79999999999998" x2="119.84" y2="252.7" stroke="#666" stroke-width="0.5"/>
<line x1="122.26" y1="251.79999999999998" x2="122.26" y2="252.7" stroke="#666" stroke-width="0.5"/>
<line x1="124.69" y1="251.79999999999998" x2="124.69" y2="252.7" stroke="#666" stroke-width="0.5"/>
<line x1="127.11" y1="251.79999999999998" x2="127.11" y2="252.7" stroke="#666" stroke-width="0.5"/>
<line x1="129.53" y1="251.79999999999998" x2="129.53" y2="252.7" stroke="#666" stroke-width="0.5"/>
<line x1="131.95" y1="251.79999999999998" x2="131.95" y2="252.7" stroke="#666" stroke-width="0.5"/>
<line x1="134.38" y1="251.79999999999998" x2="134.38" y2="252.7" stroke="#666" stroke-width="0.5"/>
<line x1="136.80" y1="251.79999999999998" x2="136.80" y2="252.7" stroke="#666" stroke-width="0.5"/>
<rect x="83.5" y="204.3" width="53.30000000000001" height="48.39999999999998" fill="none" stroke="#555" stroke-width="0.9"/>
<clipPath id="c153204"><rect x="153.1" y="204.5" width="52.0" height="48.69999999999999"/></clipPath>
<text x="151.7" y="209.4" font-family='"Liberation Serif", serif' font-size="3.9" font-weight="normal" text-anchor="end" fill="#111" >100</text>
<line x1="152.1" y1="208.0" x2="153.1" y2="208.0" stroke="#666" stroke-width="0.5" />
<text x="151.7" y="218.44" font-family='"Liberation Serif", serif' font-size="3.9" font-weight="normal" text-anchor="end" fill="#111" >80</text>
<line x1="152.1" y1="217.04" x2="153.1" y2="217.04" stroke="#666" stroke-width="0.5" />
<text x="151.7" y="227.48" font-family='"Liberation Serif", serif' font-size="3.9" font-weight="normal" text-anchor="end" fill="#111" >60</text>
<line x1="152.1" y1="226.07999999999998" x2="153.1" y2="226.07999999999998" stroke="#666" stroke-width="0.5" />
<text x="151.7" y="236.52" font-family='"Liberation Serif", serif' font-size="3.9" font-weight="normal" text-anchor="end" fill="#111" >40</text>
<line x1="152.1" y1="235.12" x2="153.1" y2="235.12" stroke="#666" stroke-width="0.5" />
<text x="151.7" y="245.56" font-family='"Liberation Serif", serif' font-size="3.9" font-weight="normal" text-anchor="end" fill="#111" >20</text>
<line x1="152.1" y1="244.16" x2="153.1" y2="244.16" stroke="#666" stroke-width="0.5" />
<text x="151.7" y="254.6" font-family='"Liberation Serif", serif' font-size="3.9" font-weight="normal" text-anchor="end" fill="#111" >0</text>
<line x1="152.1" y1="253.2" x2="153.1" y2="253.2" stroke="#666" stroke-width="0.5" />
<text transform="translate(146.0,230.3) rotate(-90)" x="0" y="0" font-family='"Liberation Serif", serif' font-size="5.2" font-weight="bold" text-anchor="middle" fill="#111" textLength="16" lengthAdjust="spacingAndGlyphs" >Events</text>
<text x="163.1" y="258.3" font-family='"Liberation Serif", serif' font-size="3.9" font-weight="normal" text-anchor="middle" fill="#111" >10<tspan font-size="2.6" dy="-1.6">0</tspan></text>
<line x1="163.1" y1="253.2" x2="163.1" y2="254.2" stroke="#666" stroke-width="0.5" />
<text x="175.5" y="258.3" font-family='"Liberation Serif", serif' font-size="3.9" font-weight="normal" text-anchor="middle" fill="#111" >10<tspan font-size="2.6" dy="-1.6">1</tspan></text>
<line x1="175.5" y1="253.2" x2="175.5" y2="254.2" stroke="#666" stroke-width="0.5" />
<text x="185.3" y="258.3" font-family='"Liberation Serif", serif' font-size="3.9" font-weight="normal" text-anchor="middle" fill="#111" >10<tspan font-size="2.6" dy="-1.6">2</tspan></text>
<line x1="185.3" y1="253.2" x2="185.3" y2="254.2" stroke="#666" stroke-width="0.5" />
<text x="195.0" y="258.3" font-family='"Liberation Serif", serif' font-size="3.9" font-weight="normal" text-anchor="middle" fill="#111" >10<tspan font-size="2.6" dy="-1.6">3</tspan></text>
<line x1="195.0" y1="253.2" x2="195.0" y2="254.2" stroke="#666" stroke-width="0.5" />
<text x="204.3" y="258.3" font-family='"Liberation Serif", serif' font-size="3.9" font-weight="normal" text-anchor="middle" fill="#111" >10<tspan font-size="2.6" dy="-1.6">4</tspan></text>
<line x1="204.3" y1="253.2" x2="204.3" y2="254.2" stroke="#666" stroke-width="0.5" />
<text x="174.6" y="267.1" font-family='"Liberation Serif", serif' font-size="5.4" font-weight="bold" text-anchor="start" fill="#111" textLength="15.6" lengthAdjust="spacingAndGlyphs" >CD3-PE</text>
<g clip-path="url(#c153204)">
<polyline points="154.00,251.50 154.20,249.80 154.60,242.90 156.10,238.90 157.10,231.10 158.10,221.20 159.10,210.40 159.80,208.40 160.50,213.30 161.00,223.20 162.00,237.90 163.00,249.80 164.00,254.20 205.70,254.30" fill="none" stroke="#777" stroke-width="0.9" stroke-linejoin="round" />
<polyline points="153.30,250.00 153.50,248.30 153.90,241.40 155.40,237.40 156.40,229.60 157.40,219.70 158.40,208.90 159.10,206.90 159.80,211.80 160.30,221.70 161.30,236.40 162.30,248.30 163.30,252.70 205.00,252.80" fill="none" stroke="#222" stroke-width="1.3" stroke-linejoin="round" />
</g>
<line x1="153.1" y1="204.50" x2="154.0" y2="204.50" stroke="#666" stroke-width="0.5"/>
<line x1="153.1" y1="206.94" x2="154.0" y2="206.94" stroke="#666" stroke-width="0.5"/>
<line x1="153.1" y1="209.37" x2="154.0" y2="209.37" stroke="#666" stroke-width="0.5"/>
<line x1="153.1" y1="211.81" x2="154.0" y2="211.81" stroke="#666" stroke-width="0.5"/>
<line x1="153.1" y1="214.24" x2="154.0" y2="214.24" stroke="#666" stroke-width="0.5"/>
<line x1="153.1" y1="216.68" x2="154.0" y2="216.68" stroke="#666" stroke-width="0.5"/>
<line x1="153.1" y1="219.11" x2="154.0" y2="219.11" stroke="#666" stroke-width="0.5"/>
<line x1="153.1" y1="221.54" x2="154.0" y2="221.54" stroke="#666" stroke-width="0.5"/>
<line x1="153.1" y1="223.98" x2="154.0" y2="223.98" stroke="#666" stroke-width="0.5"/>
<line x1="153.1" y1="226.41" x2="154.0" y2="226.41" stroke="#666" stroke-width="0.5"/>
<line x1="153.1" y1="228.85" x2="154.0" y2="228.85" stroke="#666" stroke-width="0.5"/>
<line x1="153.1" y1="231.28" x2="154.0" y2="231.28" stroke="#666" stroke-width="0.5"/>
<line x1="153.1" y1="233.72" x2="154.0" y2="233.72" stroke="#666" stroke-width="0.5"/>
<line x1="153.1" y1="236.16" x2="154.0" y2="236.16" stroke="#666" stroke-width="0.5"/>
<line x1="153.1" y1="238.59" x2="154.0" y2="238.59" stroke="#666" stroke-width="0.5"/>
<line x1="153.1" y1="241.02" x2="154.0" y2="241.02" stroke="#666" stroke-width="0.5"/>
<line x1="153.1" y1="243.46" x2="154.0" y2="243.46" stroke="#666" stroke-width="0.5"/>
<line x1="153.1" y1="245.89" x2="154.0" y2="245.89" stroke="#666" stroke-width="0.5"/>
<line x1="153.1" y1="248.33" x2="154.0" y2="248.33" stroke="#666" stroke-width="0.5"/>
<line x1="153.1" y1="250.76" x2="154.0" y2="250.76" stroke="#666" stroke-width="0.5"/>
<line x1="153.1" y1="253.20" x2="154.0" y2="253.20" stroke="#666" stroke-width="0.5"/>
<line x1="153.10" y1="252.29999999999998" x2="153.10" y2="253.2" stroke="#666" stroke-width="0.5"/>
<line x1="155.58" y1="252.29999999999998" x2="155.58" y2="253.2" stroke="#666" stroke-width="0.5"/>
<line x1="158.05" y1="252.29999999999998" x2="158.05" y2="253.2" stroke="#666" stroke-width="0.5"/>
<line x1="160.53" y1="252.29999999999998" x2="160.53" y2="253.2" stroke="#666" stroke-width="0.5"/>
<line x1="163.00" y1="252.29999999999998" x2="163.00" y2="253.2" stroke="#666" stroke-width="0.5"/>
<line x1="165.48" y1="252.29999999999998" x2="165.48" y2="253.2" stroke="#666" stroke-width="0.5"/>
<line x1="167.96" y1="252.29999999999998" x2="167.96" y2="253.2" stroke="#666" stroke-width="0.5"/>
<line x1="170.43" y1="252.29999999999998" x2="170.43" y2="253.2" stroke="#666" stroke-width="0.5"/>
<line x1="172.91" y1="252.29999999999998" x2="172.91" y2="253.2" stroke="#666" stroke-width="0.5"/>
<line x1="175.39" y1="252.29999999999998" x2="175.39" y2="253.2" stroke="#666" stroke-width="0.5"/>
<line x1="177.86" y1="252.29999999999998" x2="177.86" y2="253.2" stroke="#666" stroke-width="0.5"/>
<line x1="180.34" y1="252.29999999999998" x2="180.34" y2="253.2" stroke="#666" stroke-width="0.5"/>
<line x1="182.81" y1="252.29999999999998" x2="182.81" y2="253.2" stroke="#666" stroke-width="0.5"/>
<line x1="185.29" y1="252.29999999999998" x2="185.29" y2="253.2" stroke="#666" stroke-width="0.5"/>
<line x1="187.77" y1="252.29999999999998" x2="187.77" y2="253.2" stroke="#666" stroke-width="0.5"/>
<line x1="190.24" y1="252.29999999999998" x2="190.24" y2="253.2" stroke="#666" stroke-width="0.5"/>
<line x1="192.72" y1="252.29999999999998" x2="192.72" y2="253.2" stroke="#666" stroke-width="0.5"/>
<line x1="195.20" y1="252.29999999999998" x2="195.20" y2="253.2" stroke="#666" stroke-width="0.5"/>
<line x1="197.67" y1="252.29999999999998" x2="197.67" y2="253.2" stroke="#666" stroke-width="0.5"/>
<line x1="200.15" y1="252.29999999999998" x2="200.15" y2="253.2" stroke="#666" stroke-width="0.5"/>
<line x1="202.62" y1="252.29999999999998" x2="202.62" y2="253.2" stroke="#666" stroke-width="0.5"/>
<line x1="205.10" y1="252.29999999999998" x2="205.10" y2="253.2" stroke="#666" stroke-width="0.5"/>
<rect x="153.1" y="204.5" width="52.0" height="48.69999999999999" fill="none" stroke="#555" stroke-width="0.9"/>
<line x1="30.4" y1="379.4" x2="252.0" y2="379.4" stroke="#b4b4b4" stroke-width="0.9" />
<text x="28.799999999999997" y="383.59999999999997" font-family='"Liberation Sans", sans-serif' font-size="6.0" font-weight="bold" text-anchor="end" fill="#222" >0</text>
<line x1="30.4" y1="368.68571428571425" x2="252.0" y2="368.68571428571425" stroke="#b4b4b4" stroke-width="0.9" />
<text x="28.799999999999997" y="372.88571428571424" font-family='"Liberation Sans", sans-serif' font-size="6.0" font-weight="bold" text-anchor="end" fill="#222" >0.2</text>
<line x1="30.4" y1="357.97142857142853" x2="252.0" y2="357.97142857142853" stroke="#b4b4b4" stroke-width="0.9" />
<text x="28.799999999999997" y="362.1714285714285" font-family='"Liberation Sans", sans-serif' font-size="6.0" font-weight="bold" text-anchor="end" fill="#222" >0.4</text>
<line x1="30.4" y1="347.2571428571428" x2="252.0" y2="347.2571428571428" stroke="#b4b4b4" stroke-width="0.9" />
<text x="28.799999999999997" y="351.4571428571428" font-family='"Liberation Sans", sans-serif' font-size="6.0" font-weight="bold" text-anchor="end" fill="#222" >0.6</text>
<line x1="30.4" y1="336.5428571428571" x2="252.0" y2="336.5428571428571" stroke="#b4b4b4" stroke-width="0.9" />
<text x="28.799999999999997" y="340.7428571428571" font-family='"Liberation Sans", sans-serif' font-size="6.0" font-weight="bold" text-anchor="end" fill="#222" >0.8</text>
<line x1="30.4" y1="325.8285714285714" x2="252.0" y2="325.8285714285714" stroke="#b4b4b4" stroke-width="0.9" />
<text x="28.799999999999997" y="330.0285714285714" font-family='"Liberation Sans", sans-serif' font-size="6.0" font-weight="bold" text-anchor="end" fill="#222" >1</text>
<line x1="30.4" y1="315.11428571428564" x2="252.0" y2="315.11428571428564" stroke="#b4b4b4" stroke-width="0.9" />
<text x="28.799999999999997" y="319.31428571428563" font-family='"Liberation Sans", sans-serif' font-size="6.0" font-weight="bold" text-anchor="end" fill="#222" >1.2</text>
<line x1="30.4" y1="304.4" x2="252.0" y2="304.4" stroke="#b4b4b4" stroke-width="0.9" />
<text x="28.799999999999997" y="308.59999999999997" font-family='"Liberation Sans", sans-serif' font-size="6.0" font-weight="bold" text-anchor="end" fill="#222" >1.4</text>
<line x1="30.4" y1="304.4" x2="30.4" y2="379.4" stroke="#444" stroke-width="1.0" />
<line x1="252.0" y1="304.4" x2="252.0" y2="379.4" stroke="#777" stroke-width="0.9" />
<line x1="30.4" y1="379.4" x2="252.0" y2="379.4" stroke="#666" stroke-width="0.9" />
<line x1="62.05714285714285" y1="379.4" x2="62.05714285714285" y2="380.59999999999997" stroke="#888" stroke-width="0.7" />
<line x1="93.71428571428571" y1="379.4" x2="93.71428571428571" y2="380.59999999999997" stroke="#888" stroke-width="0.7" />
<line x1="125.37142857142857" y1="379.4" x2="125.37142857142857" y2="380.59999999999997" stroke="#888" stroke-width="0.7" />
<line x1="157.0285714285714" y1="379.4" x2="157.0285714285714" y2="380.59999999999997" stroke="#888" stroke-width="0.7" />
<line x1="188.68571428571428" y1="379.4" x2="188.68571428571428" y2="380.59999999999997" stroke="#888" stroke-width="0.7" />
<line x1="220.34285714285713" y1="379.4" x2="220.34285714285713" y2="380.59999999999997" stroke="#888" stroke-width="0.7" />
<text x="46.0" y="388.9" font-family='"Liberation Sans", sans-serif' font-size="6.0" font-weight="bold" text-anchor="middle" fill="#222" >0.05</text>
<text x="76.9" y="388.9" font-family='"Liberation Sans", sans-serif' font-size="6.0" font-weight="bold" text-anchor="middle" fill="#222" >0.1</text>
<text x="109.4" y="388.9" font-family='"Liberation Sans", sans-serif' font-size="6.0" font-weight="bold" text-anchor="middle" fill="#222" >0.25</text>
<text x="140.4" y="388.9" font-family='"Liberation Sans", sans-serif' font-size="6.0" font-weight="bold" text-anchor="middle" fill="#222" >0.5</text>
<text x="170.5" y="388.9" font-family='"Liberation Sans", sans-serif' font-size="6.0" font-weight="bold" text-anchor="middle" fill="#222" >1</text>
<text x="202.0" y="388.9" font-family='"Liberation Sans", sans-serif' font-size="6.0" font-weight="bold" text-anchor="middle" fill="#222" >2</text>
<text x="233.3" y="388.9" font-family='"Liberation Sans", sans-serif' font-size="6.0" font-weight="bold" text-anchor="middle" fill="#222" >3</text>
<line x1="48.2" y1="317.0" x2="48.2" y2="343.5" stroke="#444" stroke-width="0.8" />
<line x1="47.1" y1="317.0" x2="49.300000000000004" y2="317.0" stroke="#444" stroke-width="0.8" />
<line x1="47.1" y1="334.3" x2="49.300000000000004" y2="334.3" stroke="#444" stroke-width="0.8" />
<line x1="79.4" y1="315.1" x2="79.4" y2="337.7" stroke="#444" stroke-width="0.8" />
<line x1="78.30000000000001" y1="315.1" x2="80.5" y2="315.1" stroke="#444" stroke-width="0.8" />
<line x1="78.30000000000001" y1="337.7" x2="80.5" y2="337.7" stroke="#444" stroke-width="0.8" />
<line x1="111.2" y1="310.0" x2="111.2" y2="344.6" stroke="#444" stroke-width="0.8" />
<line x1="110.10000000000001" y1="310.0" x2="112.3" y2="310.0" stroke="#444" stroke-width="0.8" />
<line x1="142.5" y1="321.2" x2="142.5" y2="353.0" stroke="#444" stroke-width="0.8" />
<line x1="141.4" y1="321.2" x2="143.6" y2="321.2" stroke="#444" stroke-width="0.8" />
<line x1="141.4" y1="340.0" x2="143.6" y2="340.0" stroke="#444" stroke-width="0.8" />
<line x1="174.0" y1="322.0" x2="174.0" y2="338.7" stroke="#444" stroke-width="0.8" />
<line x1="172.9" y1="322.0" x2="175.1" y2="322.0" stroke="#444" stroke-width="0.8" />
<line x1="172.9" y1="326.5" x2="175.1" y2="326.5" stroke="#444" stroke-width="0.8" />
<line x1="205.0" y1="320.0" x2="205.0" y2="343.7" stroke="#444" stroke-width="0.8" />
<line x1="203.9" y1="320.0" x2="206.1" y2="320.0" stroke="#444" stroke-width="0.8" />
<line x1="203.9" y1="331.0" x2="206.1" y2="331.0" stroke="#444" stroke-width="0.8" />
<line x1="236.7" y1="316.2" x2="236.7" y2="340.0" stroke="#444" stroke-width="0.8" />
<line x1="235.6" y1="316.2" x2="237.79999999999998" y2="316.2" stroke="#444" stroke-width="0.8" />
<line x1="235.6" y1="318.5" x2="237.79999999999998" y2="318.5" stroke="#444" stroke-width="0.8" />
<polyline points="48.30,344.22 79.60,338.02 111.20,345.42 142.50,353.01 174.00,338.02 205.00,348.02 236.70,340.02" fill="none" stroke="#000" stroke-width="1.6" stroke-linejoin="round" stroke-dasharray="1.1,0.8"/>
<polyline points="48.30,340.82 79.60,330.23 111.20,329.03 142.50,346.22 174.00,341.22 205.00,343.02 236.70,333.72" fill="none" stroke="#000" stroke-width="1.5" stroke-linejoin="round" stroke-dasharray="3.2,1.8"/>
<polyline points="48.30,326.33 79.60,325.63 111.20,326.73 142.50,328.73 174.00,328.03 205.00,326.73 236.70,326.23" fill="none" stroke="#000" stroke-width="1.5" stroke-linejoin="round" />
<text transform="translate(4.4,343.5) rotate(-90)" x="0" y="0" font-family='"Liberation Sans", sans-serif' font-size="5.9" font-weight="bold" text-anchor="middle" fill="#222" textLength="95" lengthAdjust="spacingAndGlyphs" >Fold change in % of CD20+ cells</text>
<text transform="translate(12.6,341.0) rotate(-90)" x="0" y="0" font-family='"Liberation Sans", sans-serif' font-size="5.9" font-weight="bold" text-anchor="middle" fill="#222" textLength="87" lengthAdjust="spacingAndGlyphs" >(normalized to vehicle control)</text>
<text x="75.8" y="402.6" font-family='"Liberation Sans", sans-serif' font-size="6.4" font-weight="normal" text-anchor="start" fill="#222" textLength="106" lengthAdjust="spacingAndGlyphs" >Lenalidomide concentration [µM]</text>
<line x1="76.5" y1="413.1" x2="89.6" y2="413.1" stroke="#777" stroke-width="1.3" />
<text x="93.1" y="415.1" font-family='"Liberation Sans", sans-serif' font-size="6.0" font-weight="bold" text-anchor="start" fill="#111" textLength="12.7" lengthAdjust="spacingAndGlyphs" >24h</text>
<line x1="114.3" y1="413.1" x2="126.5" y2="413.1" stroke="#000" stroke-width="1.6" stroke-dasharray="4.2,3.5"/>
<text x="131.2" y="415.1" font-family='"Liberation Sans", sans-serif' font-size="6.0" font-weight="bold" text-anchor="start" fill="#111" textLength="12.6" lengthAdjust="spacingAndGlyphs" >48h</text>
<line x1="150.8" y1="413.1" x2="161.2" y2="413.1" stroke="#000" stroke-width="1.3" stroke-dasharray="1.0,0.8"/>
<text x="168.0" y="415.1" font-family='"Liberation Sans", sans-serif' font-size="6.0" font-weight="bold" text-anchor="start" fill="#111" textLength="12.8" lengthAdjust="spacingAndGlyphs" >72h</text>
<line x1="30.5" y1="511.6" x2="251.4" y2="511.6" stroke="#b4b4b4" stroke-width="0.9" />
<text x="28.9" y="515.8000000000001" font-family='"Liberation Sans", sans-serif' font-size="6.0" font-weight="bold" text-anchor="end" fill="#222" >0</text>
<line x1="30.5" y1="500.8857142857143" x2="251.4" y2="500.8857142857143" stroke="#b4b4b4" stroke-width="0.9" />
<text x="28.9" y="505.0857142857143" font-family='"Liberation Sans", sans-serif' font-size="6.0" font-weight="bold" text-anchor="end" fill="#222" >0.2</text>
<line x1="30.5" y1="490.1714285714286" x2="251.4" y2="490.1714285714286" stroke="#b4b4b4" stroke-width="0.9" />
<text x="28.9" y="494.37142857142857" font-family='"Liberation Sans", sans-serif' font-size="6.0" font-weight="bold" text-anchor="end" fill="#222" >0.4</text>
<line x1="30.5" y1="479.45714285714286" x2="251.4" y2="479.45714285714286" stroke="#b4b4b4" stroke-width="0.9" />
<text x="28.9" y="483.65714285714284" font-family='"Liberation Sans", sans-serif' font-size="6.0" font-weight="bold" text-anchor="end" fill="#222" >0.6</text>
<line x1="30.5" y1="468.74285714285713" x2="251.4" y2="468.74285714285713" stroke="#b4b4b4" stroke-width="0.9" />
<text x="28.9" y="472.9428571428571" font-family='"Liberation Sans", sans-serif' font-size="6.0" font-weight="bold" text-anchor="end" fill="#222" >0.8</text>
<line x1="30.5" y1="458.02857142857147" x2="251.4" y2="458.02857142857147" stroke="#b4b4b4" stroke-width="0.9" />
<text x="28.9" y="462.22857142857146" font-family='"Liberation Sans", sans-serif' font-size="6.0" font-weight="bold" text-anchor="end" fill="#222" >1</text>
<line x1="30.5" y1="447.3142857142857" x2="251.4" y2="447.3142857142857" stroke="#b4b4b4" stroke-width="0.9" />
<text x="28.9" y="451.5142857142857" font-family='"Liberation Sans", sans-serif' font-size="6.0" font-weight="bold" text-anchor="end" fill="#222" >1.2</text>
<line x1="30.5" y1="436.6" x2="251.4" y2="436.6" stroke="#b4b4b4" stroke-width="0.9" />
<text x="28.9" y="440.8" font-family='"Liberation Sans", sans-serif' font-size="6.0" font-weight="bold" text-anchor="end" fill="#222" >1.4</text>
<line x1="30.5" y1="436.6" x2="30.5" y2="511.6" stroke="#444" stroke-width="1.0" />
<line x1="251.4" y1="436.6" x2="251.4" y2="511.6" stroke="#777" stroke-width="0.9" />
<line x1="30.5" y1="511.6" x2="251.4" y2="511.6" stroke="#666" stroke-width="0.9" />
<line x1="62.05714285714286" y1="511.6" x2="62.05714285714286" y2="512.8000000000001" stroke="#888" stroke-width="0.7" />
<line x1="93.61428571428571" y1="511.6" x2="93.61428571428571" y2="512.8000000000001" stroke="#888" stroke-width="0.7" />
<line x1="125.17142857142858" y1="511.6" x2="125.17142857142858" y2="512.8000000000001" stroke="#888" stroke-width="0.7" />
<line x1="156.72857142857143" y1="511.6" x2="156.72857142857143" y2="512.8000000000001" stroke="#888" stroke-width="0.7" />
<line x1="188.28571428571428" y1="511.6" x2="188.28571428571428" y2="512.8000000000001" stroke="#888" stroke-width="0.7" />
<line x1="219.84285714285716" y1="511.6" x2="219.84285714285716" y2="512.8000000000001" stroke="#888" stroke-width="0.7" />
<text x="46.0" y="521.0" font-family='"Liberation Sans", sans-serif' font-size="6.0" font-weight="bold" text-anchor="middle" fill="#222" >0.05</text>
<text x="76.9" y="521.0" font-family='"Liberation Sans", sans-serif' font-size="6.0" font-weight="bold" text-anchor="middle" fill="#222" >0.1</text>
<text x="109.4" y="521.0" font-family='"Liberation Sans", sans-serif' font-size="6.0" font-weight="bold" text-anchor="middle" fill="#222" >0.25</text>
<text x="140.4" y="521.0" font-family='"Liberation Sans", sans-serif' font-size="6.0" font-weight="bold" text-anchor="middle" fill="#222" >0.5</text>
<text x="170.5" y="521.0" font-family='"Liberation Sans", sans-serif' font-size="6.0" font-weight="bold" text-anchor="middle" fill="#222" >1</text>
<text x="202.0" y="521.0" font-family='"Liberation Sans", sans-serif' font-size="6.0" font-weight="bold" text-anchor="middle" fill="#222" >2</text>
<text x="233.3" y="521.0" font-family='"Liberation Sans", sans-serif' font-size="6.0" font-weight="bold" text-anchor="middle" fill="#222" >3</text>
<text transform="translate(4.4,472.5) rotate(-90)" x="0" y="0" font-family='"Liberation Sans", sans-serif' font-size="5.9" font-weight="bold" text-anchor="middle" fill="#222" textLength="95" lengthAdjust="spacingAndGlyphs" >Fold change in % of CD52+ cells</text>
<text transform="translate(12.6,470.5) rotate(-90)" x="0" y="0" font-family='"Liberation Sans", sans-serif' font-size="5.9" font-weight="bold" text-anchor="middle" fill="#222" textLength="87" lengthAdjust="spacingAndGlyphs" >(normalized to vehicle control)</text>
<text x="75.8" y="535.6" font-family='"Liberation Sans", sans-serif' font-size="6.4" font-weight="normal" text-anchor="start" fill="#222" textLength="106" lengthAdjust="spacingAndGlyphs" >Lenalidomide concentration [µM]</text>
<line x1="76.5" y1="545.0" x2="89.6" y2="545.0" stroke="#777" stroke-width="1.3" />
<text x="93.1" y="547.0" font-family='"Liberation Sans", sans-serif' font-size="6.0" font-weight="bold" text-anchor="start" fill="#111" textLength="12.7" lengthAdjust="spacingAndGlyphs" >24h</text>
<line x1="114.3" y1="545.0" x2="126.5" y2="545.0" stroke="#000" stroke-width="1.6" stroke-dasharray="4.2,3.5"/>
<text x="131.2" y="547.0" font-family='"Liberation Sans", sans-serif' font-size="6.0" font-weight="bold" text-anchor="start" fill="#111" textLength="12.6" lengthAdjust="spacingAndGlyphs" >48h</text>
<line x1="150.8" y1="545.0" x2="161.2" y2="545.0" stroke="#000" stroke-width="1.3" stroke-dasharray="1.0,0.8"/>
<text x="168.0" y="547.0" font-family='"Liberation Sans", sans-serif' font-size="6.0" font-weight="bold" text-anchor="start" fill="#111" textLength="12.8" lengthAdjust="spacingAndGlyphs" >72h</text>
<line x1="45.0" y1="458.8285714285715" x2="234.4" y2="458.8285714285715" stroke="#000" stroke-width="1.3" stroke-dasharray="3.3,0.8"/>
<line x1="47.099999999999994" y1="457.1285714285715" x2="49.5" y2="457.1285714285715" stroke="#222" stroke-width="0.6" />
<line x1="78.39999999999999" y1="457.1285714285715" x2="80.8" y2="457.1285714285715" stroke="#222" stroke-width="0.6" />
<line x1="110.0" y1="457.1285714285715" x2="112.4" y2="457.1285714285715" stroke="#222" stroke-width="0.6" />
<line x1="141.3" y1="457.1285714285715" x2="143.7" y2="457.1285714285715" stroke="#222" stroke-width="0.6" />
<line x1="172.8" y1="457.1285714285715" x2="175.2" y2="457.1285714285715" stroke="#222" stroke-width="0.6" />
<line x1="203.8" y1="457.1285714285715" x2="206.2" y2="457.1285714285715" stroke="#222" stroke-width="0.6" />
<line x1="235.5" y1="457.1285714285715" x2="237.89999999999998" y2="457.1285714285715" stroke="#222" stroke-width="0.6" />
<line x1="301.8" y1="156" x2="301.8" y2="264.5" stroke="#444" stroke-width="0.9" />
<line x1="301.8" y1="264.5" x2="518.5" y2="264.5" stroke="#444" stroke-width="0.9" />
<line x1="300.0" y1="264.5" x2="301.8" y2="264.5" stroke="#444" stroke-width="0.8" />
<text x="297.8" y="266.1" font-family='"Liberation Sans", sans-serif' font-size="4.6" font-weight="bold" text-anchor="end" fill="#222" textLength="10.6" lengthAdjust="spacingAndGlyphs" >0.00</text>
<line x1="300.0" y1="237.4" x2="301.8" y2="237.4" stroke="#444" stroke-width="0.8" />
<text x="297.8" y="239.0" font-family='"Liberation Sans", sans-serif' font-size="4.6" font-weight="bold" text-anchor="end" fill="#222" textLength="10.6" lengthAdjust="spacingAndGlyphs" >0.50</text>
<line x1="300.0" y1="210.3" x2="301.8" y2="210.3" stroke="#444" stroke-width="0.8" />
<text x="297.8" y="211.9" font-family='"Liberation Sans", sans-serif' font-size="4.6" font-weight="bold" text-anchor="end" fill="#222" textLength="10.6" lengthAdjust="spacingAndGlyphs" >1.00</text>
<line x1="300.0" y1="183.2" x2="301.8" y2="183.2" stroke="#444" stroke-width="0.8" />
<text x="297.8" y="184.79999999999998" font-family='"Liberation Sans", sans-serif' font-size="4.6" font-weight="bold" text-anchor="end" fill="#222" textLength="10.6" lengthAdjust="spacingAndGlyphs" >1.50</text>
<line x1="300.0" y1="156.1" x2="301.8" y2="156.1" stroke="#444" stroke-width="0.8" />
<text x="297.8" y="157.7" font-family='"Liberation Sans", sans-serif' font-size="4.6" font-weight="bold" text-anchor="end" fill="#222" textLength="10.6" lengthAdjust="spacingAndGlyphs" >2.00</text>
<line x1="355.8" y1="264.5" x2="355.8" y2="266.1" stroke="#444" stroke-width="0.8" />
<line x1="409.5" y1="264.5" x2="409.5" y2="266.1" stroke="#444" stroke-width="0.8" />
<line x1="466.0" y1="264.5" x2="466.0" y2="266.1" stroke="#444" stroke-width="0.8" />
<rect x="318.1" y="209.9" width="21.299999999999955" height="54.599999999999994" fill="#7b7b7b" stroke="#505050" stroke-width="0.9"/>
<rect x="371.7" y="197.0" width="21.100000000000023" height="67.5" fill="#7b7b7b" stroke="#505050" stroke-width="0.9"/>
<rect x="428.9" y="209.7" width="21.100000000000023" height="54.80000000000001" fill="#7b7b7b" stroke="#505050" stroke-width="0.9"/>
<rect x="482.3" y="190.0" width="21.30000000000001" height="74.5" fill="#7b7b7b" stroke="#505050" stroke-width="0.9"/>
<line x1="382.0" y1="181.4" x2="382.0" y2="213.9" stroke="#555" stroke-width="0.8" />
<line x1="381.0" y1="181.4" x2="383.0" y2="181.4" stroke="#555" stroke-width="0.8" />
<line x1="381.0" y1="213.9" x2="383.0" y2="213.9" stroke="#555" stroke-width="0.8" />
<line x1="493.0" y1="169.5" x2="493.0" y2="210.3" stroke="#555" stroke-width="0.8" />
<line x1="492.0" y1="169.5" x2="494.0" y2="169.5" stroke="#555" stroke-width="0.8" />
<line x1="492.0" y1="210.3" x2="494.0" y2="210.3" stroke="#555" stroke-width="0.8" />
<text x="312.6" y="276.8" font-family='"Liberation Sans", sans-serif' font-size="6.3" font-weight="bold" text-anchor="start" fill="#111" textLength="21.2" lengthAdjust="spacingAndGlyphs" >Vehicle</text>
<text x="364.3" y="276.8" font-family='"Liberation Sans", sans-serif' font-size="6.3" font-weight="bold" text-anchor="start" fill="#111" textLength="39.9" lengthAdjust="spacingAndGlyphs" >Lenalidomide</text>
<text x="428.6" y="276.8" font-family='"Liberation Sans", sans-serif' font-size="6.3" font-weight="bold" text-anchor="start" fill="#111" textLength="22.0" lengthAdjust="spacingAndGlyphs" >Vehicle</text>
<text x="477.3" y="276.8" font-family='"Liberation Sans", sans-serif' font-size="6.3" font-weight="bold" text-anchor="start" fill="#111" textLength="40.2" lengthAdjust="spacingAndGlyphs" >Lenalidomide</text>
<line x1="325.0" y1="284.5" x2="391.0" y2="284.5" stroke="#333" stroke-width="0.9" />
<line x1="433.3" y1="284.6" x2="498.9" y2="284.6" stroke="#333" stroke-width="0.9" />
<text x="350.0" y="294.1" font-family='"Liberation Sans", sans-serif' font-size="6.0" font-weight="bold" text-anchor="start" fill="#111" textLength="9.6" lengthAdjust="spacingAndGlyphs" >24h</text>
<text x="461.4" y="294.1" font-family='"Liberation Sans", sans-serif' font-size="6.0" font-weight="bold" text-anchor="start" fill="#111" textLength="9.9" lengthAdjust="spacingAndGlyphs" >48h</text>
<text transform="translate(270.9,208.2) rotate(-90)" x="0" y="0" font-family='"Liberation Sans", sans-serif' font-size="5.4" font-weight="bold" text-anchor="middle" fill="#222" textLength="118.7" lengthAdjust="spacingAndGlyphs" >Fold Change in CD20 mRNA transcripts</text>
<text transform="translate(277.6,204.7) rotate(-90)" x="0" y="0" font-family='"Liberation Sans", sans-serif' font-size="4.6" font-weight="bold" text-anchor="middle" fill="#222" textLength="86.2" lengthAdjust="spacingAndGlyphs" >(normalized to internal control)</text>
</svg></body></html>
